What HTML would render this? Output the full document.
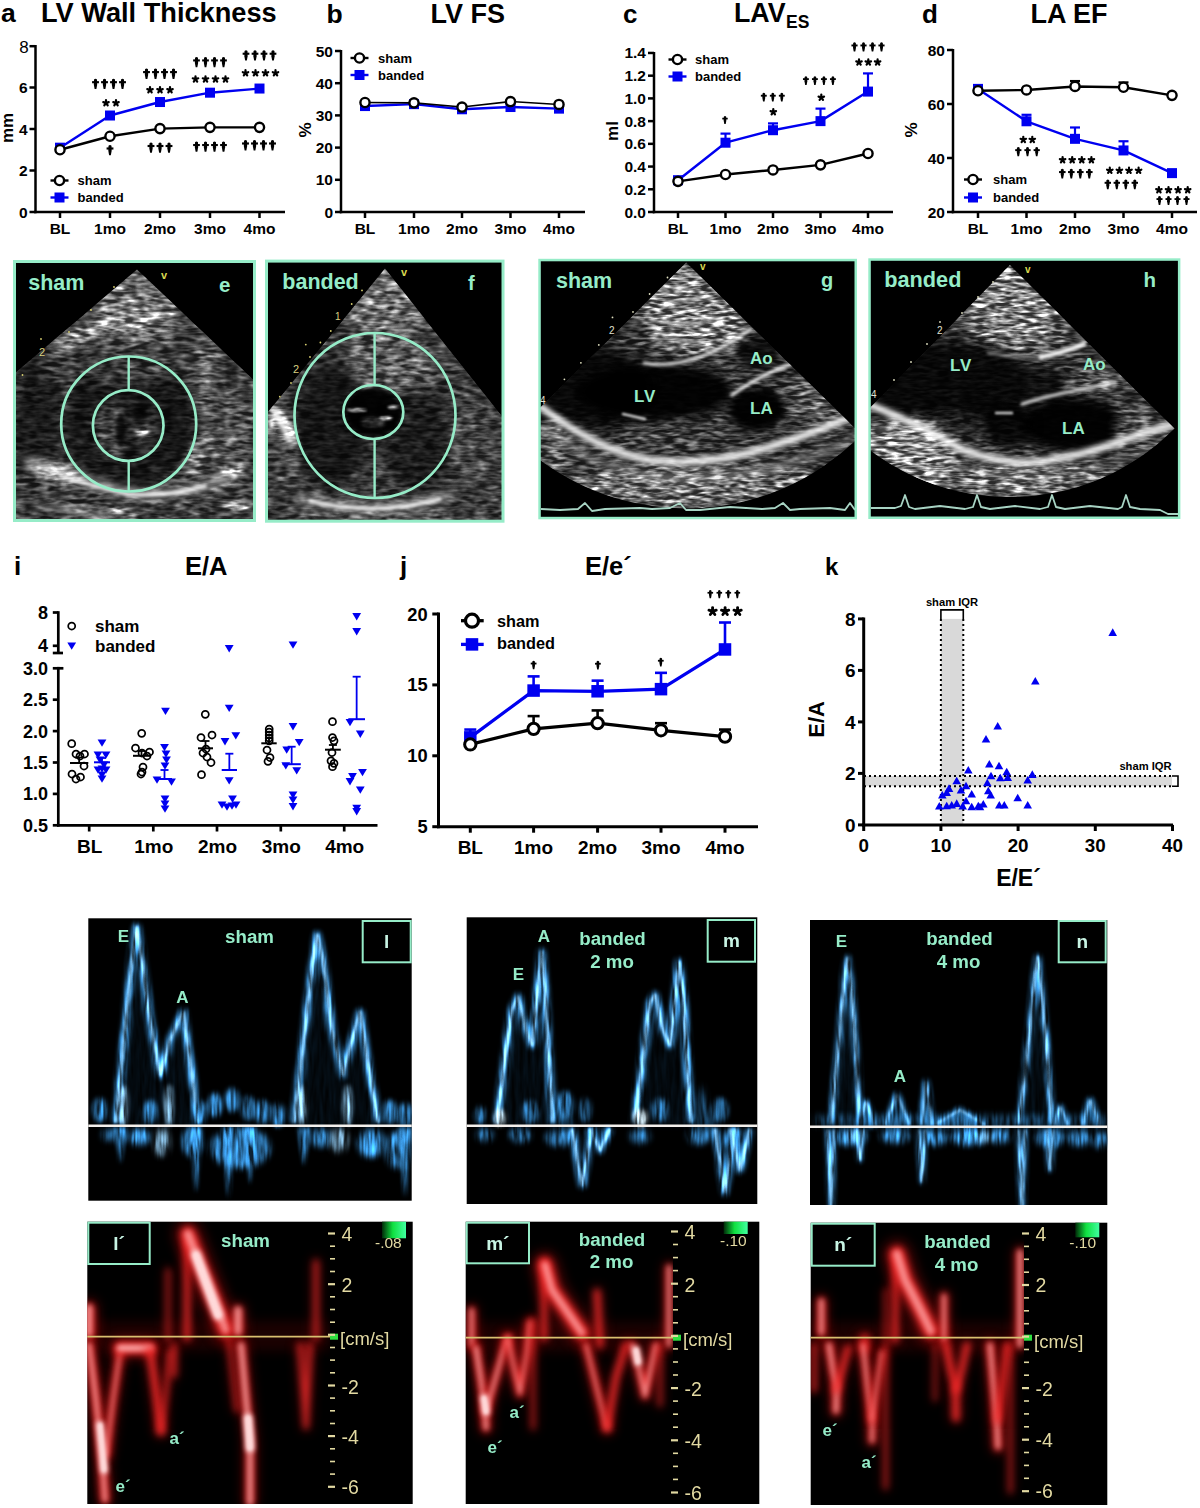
<!DOCTYPE html><html><head><meta charset="utf-8"><style>html,body{margin:0;padding:0;background:#fff;overflow:hidden;width:1200px;height:1508px;}svg{display:block;}text{font-family:"Liberation Sans",sans-serif;}</style></head><body>
<svg width="1200" height="1508" viewBox="0 0 1200 1508">
<rect width="1200" height="1508" fill="#fff"/>
<text x="1" y="22" font-size="26.5" font-weight="bold" text-anchor="start" fill="#000" >a</text>
<text x="41" y="22" font-size="27.2" font-weight="bold" text-anchor="start" fill="#000" >LV Wall Thickness</text>
<line x1="35.5" y1="45" x2="35.5" y2="213.25" stroke="#000" stroke-width="2.5"/>
<line x1="34.25" y1="212" x2="285" y2="212" stroke="#000" stroke-width="2.5"/>
<line x1="29.5" y1="87.5" x2="35.5" y2="87.5" stroke="#000" stroke-width="2.5"/>
<text x="27.5" y="93.0" font-size="15.5" font-weight="bold" text-anchor="end" fill="#000" >6</text>
<line x1="29.5" y1="129.0" x2="35.5" y2="129.0" stroke="#000" stroke-width="2.5"/>
<text x="27.5" y="134.5" font-size="15.5" font-weight="bold" text-anchor="end" fill="#000" >4</text>
<line x1="29.5" y1="170.5" x2="35.5" y2="170.5" stroke="#000" stroke-width="2.5"/>
<text x="27.5" y="176.0" font-size="15.5" font-weight="bold" text-anchor="end" fill="#000" >2</text>
<line x1="29.5" y1="212.0" x2="35.5" y2="212.0" stroke="#000" stroke-width="2.5"/>
<text x="27.5" y="217.5" font-size="15.5" font-weight="bold" text-anchor="end" fill="#000" >0</text>
<line x1="60" y1="212" x2="60" y2="218" stroke="#000" stroke-width="2.5"/>
<text x="60" y="233.5" font-size="15.5" font-weight="bold" text-anchor="middle" fill="#000" >BL</text>
<line x1="110" y1="212" x2="110" y2="218" stroke="#000" stroke-width="2.5"/>
<text x="110" y="233.5" font-size="15.5" font-weight="bold" text-anchor="middle" fill="#000" >1mo</text>
<line x1="160" y1="212" x2="160" y2="218" stroke="#000" stroke-width="2.5"/>
<text x="160" y="233.5" font-size="15.5" font-weight="bold" text-anchor="middle" fill="#000" >2mo</text>
<line x1="210" y1="212" x2="210" y2="218" stroke="#000" stroke-width="2.5"/>
<text x="210" y="233.5" font-size="15.5" font-weight="bold" text-anchor="middle" fill="#000" >3mo</text>
<line x1="259.5" y1="212" x2="259.5" y2="218" stroke="#000" stroke-width="2.5"/>
<text x="259.5" y="233.5" font-size="15.5" font-weight="bold" text-anchor="middle" fill="#000" >4mo</text>
<line x1="29.5" y1="46.2" x2="35.5" y2="46.2" stroke="#000" stroke-width="2.5"/>
<text x="28.8" y="52.8" font-size="17" font-weight="normal" text-anchor="end" fill="#000" >8</text>
<text x="12.5" y="128" font-size="17" font-weight="bold" text-anchor="middle" transform="rotate(-90 12.5 128)" dy="0">mm</text>
<polyline points="60,147.675 110,115.51249999999999 160,102.025 210,92.6875 259.5,88.5375" fill="none" stroke="#0000f0" stroke-width="2.4" stroke-linejoin="round"/>
<polyline points="60,149.75 110,136.2625 160,128.585 210,127.34 259.5,127.34" fill="none" stroke="#000" stroke-width="2.4" stroke-linejoin="round"/>
<rect x="55.0" y="142.675" width="10" height="10" fill="#0000f0"/>
<rect x="105.0" y="110.51249999999999" width="10" height="10" fill="#0000f0"/>
<rect x="155.0" y="97.025" width="10" height="10" fill="#0000f0"/>
<rect x="205.0" y="87.6875" width="10" height="10" fill="#0000f0"/>
<rect x="254.5" y="83.5375" width="10" height="10" fill="#0000f0"/>
<circle cx="60" cy="149.75" r="4.6" fill="#fff" stroke="#000" stroke-width="2.4"/>
<circle cx="110" cy="136.2625" r="4.6" fill="#fff" stroke="#000" stroke-width="2.4"/>
<circle cx="160" cy="128.585" r="4.6" fill="#fff" stroke="#000" stroke-width="2.4"/>
<circle cx="210" cy="127.34" r="4.6" fill="#fff" stroke="#000" stroke-width="2.4"/>
<circle cx="259.5" cy="127.34" r="4.6" fill="#fff" stroke="#000" stroke-width="2.4"/>
<line x1="50.5" y1="180.5" x2="68.5" y2="180.5" stroke="#000" stroke-width="2.4"/>
<circle cx="59.5" cy="180.5" r="4.6" fill="#fff" stroke="#000" stroke-width="2.4"/>
<line x1="50.5" y1="197.5" x2="68.5" y2="197.5" stroke="#0000f0" stroke-width="2.4"/>
<rect x="54.5" y="192.5" width="10" height="10" fill="#0000f0"/>
<text x="77.5" y="185.0" font-size="13" font-weight="bold" text-anchor="start" fill="#000" >sham</text>
<text x="77.5" y="202.0" font-size="13" font-weight="bold" text-anchor="start" fill="#000" >banded</text>
<path d="M94.00,79.45 Q95.50,77.95 97.00,79.45 L97.15,84.77 L96.36,89.05 L94.64,89.05 L93.85,84.77 Z" fill="#000"/>
<rect x="92.08" y="81.13" width="6.85" height="2.14" fill="#000"/>
<path d="M103.00,79.45 Q104.50,77.95 106.00,79.45 L106.15,84.77 L105.36,89.05 L103.64,89.05 L102.85,84.77 Z" fill="#000"/>
<rect x="101.08" y="81.13" width="6.85" height="2.14" fill="#000"/>
<path d="M112.00,79.45 Q113.50,77.95 115.00,79.45 L115.15,84.77 L114.36,89.05 L112.64,89.05 L111.85,84.77 Z" fill="#000"/>
<rect x="110.08" y="81.13" width="6.85" height="2.14" fill="#000"/>
<path d="M121.00,79.45 Q122.50,77.95 124.00,79.45 L124.15,84.77 L123.36,89.05 L121.64,89.05 L120.85,84.77 Z" fill="#000"/>
<rect x="119.08" y="81.13" width="6.85" height="2.14" fill="#000"/>
<path d="M106.00,103.00 L106.00,100.10 M106.00,103.00 L108.76,102.10 M106.00,103.00 L107.70,105.35 M106.00,103.00 L104.30,105.35 M106.00,103.00 L103.24,102.10 " stroke="#000" stroke-width="2.2" stroke-linecap="round" fill="none"/>
<path d="M116.00,103.00 L116.00,100.10 M116.00,103.00 L118.76,102.10 M116.00,103.00 L117.70,105.35 M116.00,103.00 L114.30,105.35 M116.00,103.00 L113.24,102.10 " stroke="#000" stroke-width="2.2" stroke-linecap="round" fill="none"/>
<path d="M108.50,145.75 Q110.00,144.25 111.50,145.75 L111.65,151.07 L110.86,155.35 L109.14,155.35 L108.35,151.07 Z" fill="#000"/>
<rect x="106.58" y="147.43" width="6.85" height="2.14" fill="#000"/>
<path d="M145.00,69.35 Q146.50,67.85 148.00,69.35 L148.15,74.67 L147.36,78.95 L145.64,78.95 L144.85,74.67 Z" fill="#000"/>
<rect x="143.08" y="71.03" width="6.85" height="2.14" fill="#000"/>
<path d="M154.00,69.35 Q155.50,67.85 157.00,69.35 L157.15,74.67 L156.36,78.95 L154.64,78.95 L153.85,74.67 Z" fill="#000"/>
<rect x="152.08" y="71.03" width="6.85" height="2.14" fill="#000"/>
<path d="M163.00,69.35 Q164.50,67.85 166.00,69.35 L166.15,74.67 L165.36,78.95 L163.64,78.95 L162.85,74.67 Z" fill="#000"/>
<rect x="161.08" y="71.03" width="6.85" height="2.14" fill="#000"/>
<path d="M172.00,69.35 Q173.50,67.85 175.00,69.35 L175.15,74.67 L174.36,78.95 L172.64,78.95 L171.85,74.67 Z" fill="#000"/>
<rect x="170.08" y="71.03" width="6.85" height="2.14" fill="#000"/>
<path d="M150.00,90.00 L150.00,87.10 M150.00,90.00 L152.76,89.10 M150.00,90.00 L151.70,92.35 M150.00,90.00 L148.30,92.35 M150.00,90.00 L147.24,89.10 " stroke="#000" stroke-width="2.2" stroke-linecap="round" fill="none"/>
<path d="M160.00,90.00 L160.00,87.10 M160.00,90.00 L162.76,89.10 M160.00,90.00 L161.70,92.35 M160.00,90.00 L158.30,92.35 M160.00,90.00 L157.24,89.10 " stroke="#000" stroke-width="2.2" stroke-linecap="round" fill="none"/>
<path d="M170.00,90.00 L170.00,87.10 M170.00,90.00 L172.76,89.10 M170.00,90.00 L171.70,92.35 M170.00,90.00 L168.30,92.35 M170.00,90.00 L167.24,89.10 " stroke="#000" stroke-width="2.2" stroke-linecap="round" fill="none"/>
<path d="M149.50,143.25 Q151.00,141.75 152.50,143.25 L152.65,148.57 L151.86,152.85 L150.14,152.85 L149.35,148.57 Z" fill="#000"/>
<rect x="147.58" y="144.93" width="6.85" height="2.14" fill="#000"/>
<path d="M158.50,143.25 Q160.00,141.75 161.50,143.25 L161.65,148.57 L160.86,152.85 L159.14,152.85 L158.35,148.57 Z" fill="#000"/>
<rect x="156.58" y="144.93" width="6.85" height="2.14" fill="#000"/>
<path d="M167.50,143.25 Q169.00,141.75 170.50,143.25 L170.65,148.57 L169.86,152.85 L168.14,152.85 L167.35,148.57 Z" fill="#000"/>
<rect x="165.58" y="144.93" width="6.85" height="2.14" fill="#000"/>
<path d="M195.03,57.75 Q196.50,56.25 197.97,57.75 L198.12,62.95 L197.34,67.15 L195.66,67.15 L194.88,62.95 Z" fill="#000"/>
<rect x="193.14" y="59.38" width="6.72" height="2.10" fill="#000"/>
<path d="M204.03,57.75 Q205.50,56.25 206.97,57.75 L207.12,62.95 L206.34,67.15 L204.66,67.15 L203.88,62.95 Z" fill="#000"/>
<rect x="202.14" y="59.38" width="6.72" height="2.10" fill="#000"/>
<path d="M213.03,57.75 Q214.50,56.25 215.97,57.75 L216.12,62.95 L215.34,67.15 L213.66,67.15 L212.88,62.95 Z" fill="#000"/>
<rect x="211.14" y="59.38" width="6.72" height="2.10" fill="#000"/>
<path d="M222.03,57.75 Q223.50,56.25 224.97,57.75 L225.12,62.95 L224.34,67.15 L222.66,67.15 L221.88,62.95 Z" fill="#000"/>
<rect x="220.14" y="59.38" width="6.72" height="2.10" fill="#000"/>
<path d="M195.50,79.20 L195.50,76.30 M195.50,79.20 L198.26,78.30 M195.50,79.20 L197.20,81.55 M195.50,79.20 L193.80,81.55 M195.50,79.20 L192.74,78.30 " stroke="#000" stroke-width="2.2" stroke-linecap="round" fill="none"/>
<path d="M205.50,79.20 L205.50,76.30 M205.50,79.20 L208.26,78.30 M205.50,79.20 L207.20,81.55 M205.50,79.20 L203.80,81.55 M205.50,79.20 L202.74,78.30 " stroke="#000" stroke-width="2.2" stroke-linecap="round" fill="none"/>
<path d="M215.50,79.20 L215.50,76.30 M215.50,79.20 L218.26,78.30 M215.50,79.20 L217.20,81.55 M215.50,79.20 L213.80,81.55 M215.50,79.20 L212.74,78.30 " stroke="#000" stroke-width="2.2" stroke-linecap="round" fill="none"/>
<path d="M225.50,79.20 L225.50,76.30 M225.50,79.20 L228.26,78.30 M225.50,79.20 L227.20,81.55 M225.50,79.20 L223.80,81.55 M225.50,79.20 L222.74,78.30 " stroke="#000" stroke-width="2.2" stroke-linecap="round" fill="none"/>
<path d="M195.03,142.35 Q196.50,140.85 197.97,142.35 L198.12,147.55 L197.34,151.75 L195.66,151.75 L194.88,147.55 Z" fill="#000"/>
<rect x="193.14" y="143.98" width="6.72" height="2.10" fill="#000"/>
<path d="M204.03,142.35 Q205.50,140.85 206.97,142.35 L207.12,147.55 L206.34,151.75 L204.66,151.75 L203.88,147.55 Z" fill="#000"/>
<rect x="202.14" y="143.98" width="6.72" height="2.10" fill="#000"/>
<path d="M213.03,142.35 Q214.50,140.85 215.97,142.35 L216.12,147.55 L215.34,151.75 L213.66,151.75 L212.88,147.55 Z" fill="#000"/>
<rect x="211.14" y="143.98" width="6.72" height="2.10" fill="#000"/>
<path d="M222.03,142.35 Q223.50,140.85 224.97,142.35 L225.12,147.55 L224.34,151.75 L222.66,151.75 L221.88,147.55 Z" fill="#000"/>
<rect x="220.14" y="143.98" width="6.72" height="2.10" fill="#000"/>
<path d="M244.53,51.05 Q246.00,49.55 247.47,51.05 L247.62,56.25 L246.84,60.45 L245.16,60.45 L244.38,56.25 Z" fill="#000"/>
<rect x="242.64" y="52.68" width="6.72" height="2.10" fill="#000"/>
<path d="M253.53,51.05 Q255.00,49.55 256.47,51.05 L256.62,56.25 L255.84,60.45 L254.16,60.45 L253.38,56.25 Z" fill="#000"/>
<rect x="251.64" y="52.68" width="6.72" height="2.10" fill="#000"/>
<path d="M262.53,51.05 Q264.00,49.55 265.47,51.05 L265.62,56.25 L264.84,60.45 L263.16,60.45 L262.38,56.25 Z" fill="#000"/>
<rect x="260.64" y="52.68" width="6.72" height="2.10" fill="#000"/>
<path d="M271.53,51.05 Q273.00,49.55 274.47,51.05 L274.62,56.25 L273.84,60.45 L272.16,60.45 L271.38,56.25 Z" fill="#000"/>
<rect x="269.64" y="52.68" width="6.72" height="2.10" fill="#000"/>
<path d="M245.50,73.10 L245.50,70.20 M245.50,73.10 L248.26,72.20 M245.50,73.10 L247.20,75.45 M245.50,73.10 L243.80,75.45 M245.50,73.10 L242.74,72.20 " stroke="#000" stroke-width="2.2" stroke-linecap="round" fill="none"/>
<path d="M255.50,73.10 L255.50,70.20 M255.50,73.10 L258.26,72.20 M255.50,73.10 L257.20,75.45 M255.50,73.10 L253.80,75.45 M255.50,73.10 L252.74,72.20 " stroke="#000" stroke-width="2.2" stroke-linecap="round" fill="none"/>
<path d="M265.50,73.10 L265.50,70.20 M265.50,73.10 L268.26,72.20 M265.50,73.10 L267.20,75.45 M265.50,73.10 L263.80,75.45 M265.50,73.10 L262.74,72.20 " stroke="#000" stroke-width="2.2" stroke-linecap="round" fill="none"/>
<path d="M275.50,73.10 L275.50,70.20 M275.50,73.10 L278.26,72.20 M275.50,73.10 L277.20,75.45 M275.50,73.10 L273.80,75.45 M275.50,73.10 L272.74,72.20 " stroke="#000" stroke-width="2.2" stroke-linecap="round" fill="none"/>
<path d="M243.99,140.70 Q245.50,139.20 247.01,140.70 L247.16,146.08 L246.36,150.40 L244.64,150.40 L243.84,146.08 Z" fill="#000"/>
<rect x="242.04" y="142.41" width="6.91" height="2.16" fill="#000"/>
<path d="M252.99,140.70 Q254.50,139.20 256.01,140.70 L256.16,146.08 L255.36,150.40 L253.64,150.40 L252.84,146.08 Z" fill="#000"/>
<rect x="251.04" y="142.41" width="6.91" height="2.16" fill="#000"/>
<path d="M261.99,140.70 Q263.50,139.20 265.01,140.70 L265.16,146.08 L264.36,150.40 L262.64,150.40 L261.84,146.08 Z" fill="#000"/>
<rect x="260.04" y="142.41" width="6.91" height="2.16" fill="#000"/>
<path d="M270.99,140.70 Q272.50,139.20 274.01,140.70 L274.16,146.08 L273.36,150.40 L271.64,150.40 L270.84,146.08 Z" fill="#000"/>
<rect x="269.04" y="142.41" width="6.91" height="2.16" fill="#000"/>
<text x="326.5" y="22.5" font-size="26.5" font-weight="bold" text-anchor="start" fill="#000" >b</text>
<text x="430.5" y="22.5" font-size="27" font-weight="bold" text-anchor="start" fill="#000" >LV FS</text>
<line x1="341" y1="50" x2="341" y2="213.25" stroke="#000" stroke-width="2.5"/>
<line x1="339.75" y1="212" x2="585" y2="212" stroke="#000" stroke-width="2.5"/>
<line x1="335" y1="51.0" x2="341" y2="51.0" stroke="#000" stroke-width="2.5"/>
<text x="333" y="56.5" font-size="15.5" font-weight="bold" text-anchor="end" fill="#000" >50</text>
<line x1="335" y1="83.19999999999999" x2="341" y2="83.19999999999999" stroke="#000" stroke-width="2.5"/>
<text x="333" y="88.69999999999999" font-size="15.5" font-weight="bold" text-anchor="end" fill="#000" >40</text>
<line x1="335" y1="115.39999999999999" x2="341" y2="115.39999999999999" stroke="#000" stroke-width="2.5"/>
<text x="333" y="120.89999999999999" font-size="15.5" font-weight="bold" text-anchor="end" fill="#000" >30</text>
<line x1="335" y1="147.6" x2="341" y2="147.6" stroke="#000" stroke-width="2.5"/>
<text x="333" y="153.1" font-size="15.5" font-weight="bold" text-anchor="end" fill="#000" >20</text>
<line x1="335" y1="179.8" x2="341" y2="179.8" stroke="#000" stroke-width="2.5"/>
<text x="333" y="185.3" font-size="15.5" font-weight="bold" text-anchor="end" fill="#000" >10</text>
<line x1="335" y1="212.0" x2="341" y2="212.0" stroke="#000" stroke-width="2.5"/>
<text x="333" y="217.5" font-size="15.5" font-weight="bold" text-anchor="end" fill="#000" >0</text>
<line x1="365" y1="212" x2="365" y2="218" stroke="#000" stroke-width="2.5"/>
<text x="365" y="233.5" font-size="15.5" font-weight="bold" text-anchor="middle" fill="#000" >BL</text>
<line x1="414" y1="212" x2="414" y2="218" stroke="#000" stroke-width="2.5"/>
<text x="414" y="233.5" font-size="15.5" font-weight="bold" text-anchor="middle" fill="#000" >1mo</text>
<line x1="462" y1="212" x2="462" y2="218" stroke="#000" stroke-width="2.5"/>
<text x="462" y="233.5" font-size="15.5" font-weight="bold" text-anchor="middle" fill="#000" >2mo</text>
<line x1="510.5" y1="212" x2="510.5" y2="218" stroke="#000" stroke-width="2.5"/>
<text x="510.5" y="233.5" font-size="15.5" font-weight="bold" text-anchor="middle" fill="#000" >3mo</text>
<line x1="559" y1="212" x2="559" y2="218" stroke="#000" stroke-width="2.5"/>
<text x="559" y="233.5" font-size="15.5" font-weight="bold" text-anchor="middle" fill="#000" >4mo</text>
<text x="311" y="130" font-size="17" font-weight="bold" text-anchor="middle" transform="rotate(-90 311 130)">%</text>
<polyline points="365,106.062 414,104.13 462,109.282 510.5,107.02799999999999 559,108.63799999999999" fill="none" stroke="#0000f0" stroke-width="2.4" stroke-linejoin="round"/>
<rect x="360.0" y="101.062" width="10" height="10" fill="#0000f0"/>
<rect x="409.0" y="99.13" width="10" height="10" fill="#0000f0"/>
<rect x="457.0" y="104.282" width="10" height="10" fill="#0000f0"/>
<rect x="505.5" y="102.02799999999999" width="10" height="10" fill="#0000f0"/>
<rect x="554.0" y="103.63799999999999" width="10" height="10" fill="#0000f0"/>
<polyline points="365,102.52 414,102.842 462,107.02799999999999 510.5,101.554 559,104.452" fill="none" stroke="#000" stroke-width="1.6" stroke-linejoin="round"/>
<circle cx="365" cy="102.52" r="4.6" fill="#fff" stroke="#000" stroke-width="2.4"/>
<circle cx="414" cy="102.842" r="4.6" fill="#fff" stroke="#000" stroke-width="2.4"/>
<circle cx="462" cy="107.02799999999999" r="4.6" fill="#fff" stroke="#000" stroke-width="2.4"/>
<circle cx="510.5" cy="101.554" r="4.6" fill="#fff" stroke="#000" stroke-width="2.4"/>
<circle cx="559" cy="104.452" r="4.6" fill="#fff" stroke="#000" stroke-width="2.4"/>
<line x1="350.5" y1="58" x2="368.5" y2="58" stroke="#000" stroke-width="2.4"/>
<circle cx="359.5" cy="58" r="4.6" fill="#fff" stroke="#000" stroke-width="2.4"/>
<line x1="350.5" y1="75" x2="368.5" y2="75" stroke="#0000f0" stroke-width="2.4"/>
<rect x="354.5" y="70.0" width="10" height="10" fill="#0000f0"/>
<text x="378" y="62.5" font-size="13" font-weight="bold" text-anchor="start" fill="#000" >sham</text>
<text x="378" y="79.5" font-size="13" font-weight="bold" text-anchor="start" fill="#000" >banded</text>
<text x="623" y="22.5" font-size="26" font-weight="bold" text-anchor="start" fill="#000" >c</text>
<text x="734" y="22" font-size="26.8" font-weight="bold" text-anchor="start" fill="#000" >LAV</text>
<text x="786" y="28" font-size="17.5" font-weight="bold" text-anchor="start" fill="#000" >ES</text>
<line x1="654" y1="52" x2="654" y2="213.25" stroke="#000" stroke-width="2.5"/>
<line x1="652.75" y1="212" x2="893" y2="212" stroke="#000" stroke-width="2.5"/>
<line x1="648" y1="52.96000000000001" x2="654" y2="52.96000000000001" stroke="#000" stroke-width="2.5"/>
<text x="646" y="58.46000000000001" font-size="15.5" font-weight="bold" text-anchor="end" fill="#000" >1.4</text>
<line x1="648" y1="75.68" x2="654" y2="75.68" stroke="#000" stroke-width="2.5"/>
<text x="646" y="81.18" font-size="15.5" font-weight="bold" text-anchor="end" fill="#000" >1.2</text>
<line x1="648" y1="98.4" x2="654" y2="98.4" stroke="#000" stroke-width="2.5"/>
<text x="646" y="103.9" font-size="15.5" font-weight="bold" text-anchor="end" fill="#000" >1.0</text>
<line x1="648" y1="121.12" x2="654" y2="121.12" stroke="#000" stroke-width="2.5"/>
<text x="646" y="126.62" font-size="15.5" font-weight="bold" text-anchor="end" fill="#000" >0.8</text>
<line x1="648" y1="143.84" x2="654" y2="143.84" stroke="#000" stroke-width="2.5"/>
<text x="646" y="149.34" font-size="15.5" font-weight="bold" text-anchor="end" fill="#000" >0.6</text>
<line x1="648" y1="166.56" x2="654" y2="166.56" stroke="#000" stroke-width="2.5"/>
<text x="646" y="172.06" font-size="15.5" font-weight="bold" text-anchor="end" fill="#000" >0.4</text>
<line x1="648" y1="189.28" x2="654" y2="189.28" stroke="#000" stroke-width="2.5"/>
<text x="646" y="194.78" font-size="15.5" font-weight="bold" text-anchor="end" fill="#000" >0.2</text>
<line x1="648" y1="212.0" x2="654" y2="212.0" stroke="#000" stroke-width="2.5"/>
<text x="646" y="217.5" font-size="15.5" font-weight="bold" text-anchor="end" fill="#000" >0.0</text>
<line x1="678" y1="212" x2="678" y2="218" stroke="#000" stroke-width="2.5"/>
<text x="678" y="233.5" font-size="15.5" font-weight="bold" text-anchor="middle" fill="#000" >BL</text>
<line x1="725.5" y1="212" x2="725.5" y2="218" stroke="#000" stroke-width="2.5"/>
<text x="725.5" y="233.5" font-size="15.5" font-weight="bold" text-anchor="middle" fill="#000" >1mo</text>
<line x1="773" y1="212" x2="773" y2="218" stroke="#000" stroke-width="2.5"/>
<text x="773" y="233.5" font-size="15.5" font-weight="bold" text-anchor="middle" fill="#000" >2mo</text>
<line x1="820.5" y1="212" x2="820.5" y2="218" stroke="#000" stroke-width="2.5"/>
<text x="820.5" y="233.5" font-size="15.5" font-weight="bold" text-anchor="middle" fill="#000" >3mo</text>
<line x1="868" y1="212" x2="868" y2="218" stroke="#000" stroke-width="2.5"/>
<text x="868" y="233.5" font-size="15.5" font-weight="bold" text-anchor="middle" fill="#000" >4mo</text>
<text x="618" y="131" font-size="17" font-weight="bold" text-anchor="middle" transform="rotate(-90 618 131)">ml</text>
<line x1="678" y1="180.192" x2="678" y2="180.192" stroke="#0000f0" stroke-width="2.2"/>
<line x1="673" y1="180.192" x2="683" y2="180.192" stroke="#0000f0" stroke-width="2.2"/>
<line x1="725.5" y1="142.704" x2="725.5" y2="133.616" stroke="#0000f0" stroke-width="2.2"/>
<line x1="720.5" y1="133.616" x2="730.5" y2="133.616" stroke="#0000f0" stroke-width="2.2"/>
<line x1="773" y1="130.20800000000003" x2="773" y2="123.392" stroke="#0000f0" stroke-width="2.2"/>
<line x1="768" y1="123.392" x2="778" y2="123.392" stroke="#0000f0" stroke-width="2.2"/>
<line x1="820.5" y1="121.12" x2="820.5" y2="108.624" stroke="#0000f0" stroke-width="2.2"/>
<line x1="815.5" y1="108.624" x2="825.5" y2="108.624" stroke="#0000f0" stroke-width="2.2"/>
<line x1="868" y1="91.584" x2="868" y2="73.40800000000002" stroke="#0000f0" stroke-width="2.2"/>
<line x1="863" y1="73.40800000000002" x2="873" y2="73.40800000000002" stroke="#0000f0" stroke-width="2.2"/>
<polyline points="678,180.192 725.5,142.704 773,130.20800000000003 820.5,121.12 868,91.584" fill="none" stroke="#0000f0" stroke-width="2.4" stroke-linejoin="round"/>
<rect x="673.0" y="175.192" width="10" height="10" fill="#0000f0"/>
<rect x="720.5" y="137.704" width="10" height="10" fill="#0000f0"/>
<rect x="768.0" y="125.20800000000003" width="10" height="10" fill="#0000f0"/>
<rect x="815.5" y="116.12" width="10" height="10" fill="#0000f0"/>
<rect x="863.0" y="86.584" width="10" height="10" fill="#0000f0"/>
<polyline points="678,181.328 725.5,174.512 773,169.96800000000002 820.5,164.856 868,153.496" fill="none" stroke="#000" stroke-width="2.4" stroke-linejoin="round"/>
<circle cx="678" cy="181.328" r="4.6" fill="#fff" stroke="#000" stroke-width="2.4"/>
<circle cx="725.5" cy="174.512" r="4.6" fill="#fff" stroke="#000" stroke-width="2.4"/>
<circle cx="773" cy="169.96800000000002" r="4.6" fill="#fff" stroke="#000" stroke-width="2.4"/>
<circle cx="820.5" cy="164.856" r="4.6" fill="#fff" stroke="#000" stroke-width="2.4"/>
<circle cx="868" cy="153.496" r="4.6" fill="#fff" stroke="#000" stroke-width="2.4"/>
<line x1="668.5" y1="59.5" x2="686.5" y2="59.5" stroke="#000" stroke-width="2.4"/>
<circle cx="677.5" cy="59.5" r="4.6" fill="#fff" stroke="#000" stroke-width="2.4"/>
<line x1="668.5" y1="76.5" x2="686.5" y2="76.5" stroke="#0000f0" stroke-width="2.4"/>
<rect x="672.5" y="71.5" width="10" height="10" fill="#0000f0"/>
<text x="695" y="64.0" font-size="13" font-weight="bold" text-anchor="start" fill="#000" >sham</text>
<text x="695" y="81.0" font-size="13" font-weight="bold" text-anchor="start" fill="#000" >banded</text>
<path d="M723.81,116.65 Q725.00,115.15 726.19,116.65 L726.31,120.65 L725.68,124.05 L724.32,124.05 L723.69,120.65 Z" fill="#000"/>
<rect x="722.28" y="117.76" width="5.44" height="1.70" fill="#000"/>
<path d="M762.51,93.50 Q763.80,92.00 765.09,93.50 L765.22,97.92 L764.54,101.60 L763.06,101.60 L762.38,97.92 Z" fill="#000"/>
<rect x="760.86" y="94.79" width="5.89" height="1.84" fill="#000"/>
<path d="M771.51,93.50 Q772.80,92.00 774.09,93.50 L774.22,97.92 L773.54,101.60 L772.06,101.60 L771.38,97.92 Z" fill="#000"/>
<rect x="769.86" y="94.79" width="5.89" height="1.84" fill="#000"/>
<path d="M780.51,93.50 Q781.80,92.00 783.09,93.50 L783.22,97.92 L782.54,101.60 L781.06,101.60 L780.38,97.92 Z" fill="#000"/>
<rect x="778.86" y="94.79" width="5.89" height="1.84" fill="#000"/>
<path d="M773.30,112.00 L773.30,109.10 M773.30,112.00 L776.06,111.10 M773.30,112.00 L775.00,114.35 M773.30,112.00 L771.60,114.35 M773.30,112.00 L770.54,111.10 " stroke="#000" stroke-width="2.2" stroke-linecap="round" fill="none"/>
<path d="M804.61,76.90 Q805.90,75.40 807.19,76.90 L807.32,81.32 L806.64,85.00 L805.16,85.00 L804.48,81.32 Z" fill="#000"/>
<rect x="802.96" y="78.19" width="5.89" height="1.84" fill="#000"/>
<path d="M813.61,76.90 Q814.90,75.40 816.19,76.90 L816.32,81.32 L815.64,85.00 L814.16,85.00 L813.48,81.32 Z" fill="#000"/>
<rect x="811.96" y="78.19" width="5.89" height="1.84" fill="#000"/>
<path d="M822.61,76.90 Q823.90,75.40 825.19,76.90 L825.32,81.32 L824.64,85.00 L823.16,85.00 L822.48,81.32 Z" fill="#000"/>
<rect x="820.96" y="78.19" width="5.89" height="1.84" fill="#000"/>
<path d="M831.61,76.90 Q832.90,75.40 834.19,76.90 L834.32,81.32 L833.64,85.00 L832.16,85.00 L831.48,81.32 Z" fill="#000"/>
<rect x="829.96" y="78.19" width="5.89" height="1.84" fill="#000"/>
<path d="M821.30,97.50 L821.30,94.60 M821.30,97.50 L824.06,96.60 M821.30,97.50 L823.00,99.85 M821.30,97.50 L819.60,99.85 M821.30,97.50 L818.54,96.60 " stroke="#000" stroke-width="2.2" stroke-linecap="round" fill="none"/>
<path d="M853.16,43.10 Q854.50,41.60 855.84,43.10 L855.98,47.76 L855.27,51.60 L853.73,51.60 L853.02,47.76 Z" fill="#000"/>
<rect x="851.43" y="44.50" width="6.14" height="1.92" fill="#000"/>
<path d="M862.16,43.10 Q863.50,41.60 864.84,43.10 L864.98,47.76 L864.27,51.60 L862.73,51.60 L862.02,47.76 Z" fill="#000"/>
<rect x="860.43" y="44.50" width="6.14" height="1.92" fill="#000"/>
<path d="M871.16,43.10 Q872.50,41.60 873.84,43.10 L873.98,47.76 L873.27,51.60 L871.73,51.60 L871.02,47.76 Z" fill="#000"/>
<rect x="869.43" y="44.50" width="6.14" height="1.92" fill="#000"/>
<path d="M880.16,43.10 Q881.50,41.60 882.84,43.10 L882.98,47.76 L882.27,51.60 L880.73,51.60 L880.02,47.76 Z" fill="#000"/>
<rect x="878.43" y="44.50" width="6.14" height="1.92" fill="#000"/>
<path d="M859.00,62.30 L859.00,59.40 M859.00,62.30 L861.76,61.40 M859.00,62.30 L860.70,64.65 M859.00,62.30 L857.30,64.65 M859.00,62.30 L856.24,61.40 " stroke="#000" stroke-width="2.2" stroke-linecap="round" fill="none"/>
<path d="M868.30,62.30 L868.30,59.40 M868.30,62.30 L871.06,61.40 M868.30,62.30 L870.00,64.65 M868.30,62.30 L866.60,64.65 M868.30,62.30 L865.54,61.40 " stroke="#000" stroke-width="2.2" stroke-linecap="round" fill="none"/>
<path d="M877.60,62.30 L877.60,59.40 M877.60,62.30 L880.36,61.40 M877.60,62.30 L879.30,64.65 M877.60,62.30 L875.90,64.65 M877.60,62.30 L874.84,61.40 " stroke="#000" stroke-width="2.2" stroke-linecap="round" fill="none"/>
<text x="922" y="22.5" font-size="26" font-weight="bold" text-anchor="start" fill="#000" >d</text>
<text x="1030.5" y="22.5" font-size="27" font-weight="bold" text-anchor="start" fill="#000" >LA EF</text>
<line x1="953" y1="49" x2="953" y2="213.25" stroke="#000" stroke-width="2.5"/>
<line x1="951.75" y1="212" x2="1197" y2="212" stroke="#000" stroke-width="2.5"/>
<line x1="947" y1="50.0" x2="953" y2="50.0" stroke="#000" stroke-width="2.5"/>
<text x="945" y="55.5" font-size="15.5" font-weight="bold" text-anchor="end" fill="#000" >80</text>
<line x1="947" y1="104.0" x2="953" y2="104.0" stroke="#000" stroke-width="2.5"/>
<text x="945" y="109.5" font-size="15.5" font-weight="bold" text-anchor="end" fill="#000" >60</text>
<line x1="947" y1="158.0" x2="953" y2="158.0" stroke="#000" stroke-width="2.5"/>
<text x="945" y="163.5" font-size="15.5" font-weight="bold" text-anchor="end" fill="#000" >40</text>
<line x1="947" y1="212.0" x2="953" y2="212.0" stroke="#000" stroke-width="2.5"/>
<text x="945" y="217.5" font-size="15.5" font-weight="bold" text-anchor="end" fill="#000" >20</text>
<line x1="978" y1="212" x2="978" y2="218" stroke="#000" stroke-width="2.5"/>
<text x="978" y="233.5" font-size="15.5" font-weight="bold" text-anchor="middle" fill="#000" >BL</text>
<line x1="1026.5" y1="212" x2="1026.5" y2="218" stroke="#000" stroke-width="2.5"/>
<text x="1026.5" y="233.5" font-size="15.5" font-weight="bold" text-anchor="middle" fill="#000" >1mo</text>
<line x1="1075" y1="212" x2="1075" y2="218" stroke="#000" stroke-width="2.5"/>
<text x="1075" y="233.5" font-size="15.5" font-weight="bold" text-anchor="middle" fill="#000" >2mo</text>
<line x1="1123.5" y1="212" x2="1123.5" y2="218" stroke="#000" stroke-width="2.5"/>
<text x="1123.5" y="233.5" font-size="15.5" font-weight="bold" text-anchor="middle" fill="#000" >3mo</text>
<line x1="1172" y1="212" x2="1172" y2="218" stroke="#000" stroke-width="2.5"/>
<text x="1172" y="233.5" font-size="15.5" font-weight="bold" text-anchor="middle" fill="#000" >4mo</text>
<text x="917" y="130" font-size="17" font-weight="bold" text-anchor="middle" transform="rotate(-90 917 130)">%</text>
<line x1="978" y1="88.88000000000001" x2="978" y2="85.1" stroke="#0000f0" stroke-width="2.2"/>
<line x1="973" y1="85.1" x2="983" y2="85.1" stroke="#0000f0" stroke-width="2.2"/>
<line x1="1026.5" y1="121.27999999999999" x2="1026.5" y2="114.8" stroke="#0000f0" stroke-width="2.2"/>
<line x1="1021.5" y1="114.8" x2="1031.5" y2="114.8" stroke="#0000f0" stroke-width="2.2"/>
<line x1="1075" y1="138.82999999999998" x2="1075" y2="127.49000000000001" stroke="#0000f0" stroke-width="2.2"/>
<line x1="1070" y1="127.49000000000001" x2="1080" y2="127.49000000000001" stroke="#0000f0" stroke-width="2.2"/>
<line x1="1123.5" y1="150.44" x2="1123.5" y2="141.26" stroke="#0000f0" stroke-width="2.2"/>
<line x1="1118.5" y1="141.26" x2="1128.5" y2="141.26" stroke="#0000f0" stroke-width="2.2"/>
<line x1="1172" y1="173.12" x2="1172" y2="173.12" stroke="#0000f0" stroke-width="2.2"/>
<line x1="1167" y1="173.12" x2="1177" y2="173.12" stroke="#0000f0" stroke-width="2.2"/>
<line x1="978" y1="90.76999999999998" x2="978" y2="90.76999999999998" stroke="#000" stroke-width="2.2"/>
<line x1="973" y1="90.76999999999998" x2="983" y2="90.76999999999998" stroke="#000" stroke-width="2.2"/>
<line x1="1026.5" y1="89.95999999999998" x2="1026.5" y2="89.95999999999998" stroke="#000" stroke-width="2.2"/>
<line x1="1021.5" y1="89.95999999999998" x2="1031.5" y2="89.95999999999998" stroke="#000" stroke-width="2.2"/>
<line x1="1075" y1="86.44999999999999" x2="1075" y2="81.04999999999998" stroke="#000" stroke-width="2.2"/>
<line x1="1070" y1="81.04999999999998" x2="1080" y2="81.04999999999998" stroke="#000" stroke-width="2.2"/>
<line x1="1123.5" y1="87.25999999999999" x2="1123.5" y2="82.39999999999998" stroke="#000" stroke-width="2.2"/>
<line x1="1118.5" y1="82.39999999999998" x2="1128.5" y2="82.39999999999998" stroke="#000" stroke-width="2.2"/>
<line x1="1172" y1="95.35999999999999" x2="1172" y2="95.35999999999999" stroke="#000" stroke-width="2.2"/>
<line x1="1167" y1="95.35999999999999" x2="1177" y2="95.35999999999999" stroke="#000" stroke-width="2.2"/>
<polyline points="978,88.88000000000001 1026.5,121.27999999999999 1075,138.82999999999998 1123.5,150.44 1172,173.12" fill="none" stroke="#0000f0" stroke-width="2.4" stroke-linejoin="round"/>
<rect x="973.0" y="83.88000000000001" width="10" height="10" fill="#0000f0"/>
<rect x="1021.5" y="116.27999999999999" width="10" height="10" fill="#0000f0"/>
<rect x="1070.0" y="133.82999999999998" width="10" height="10" fill="#0000f0"/>
<rect x="1118.5" y="145.44" width="10" height="10" fill="#0000f0"/>
<rect x="1167.0" y="168.12" width="10" height="10" fill="#0000f0"/>
<polyline points="978,90.76999999999998 1026.5,89.95999999999998 1075,86.44999999999999 1123.5,87.25999999999999 1172,95.35999999999999" fill="none" stroke="#000" stroke-width="2.4" stroke-linejoin="round"/>
<circle cx="978" cy="90.76999999999998" r="4.6" fill="#fff" stroke="#000" stroke-width="2.4"/>
<circle cx="1026.5" cy="89.95999999999998" r="4.6" fill="#fff" stroke="#000" stroke-width="2.4"/>
<circle cx="1075" cy="86.44999999999999" r="4.6" fill="#fff" stroke="#000" stroke-width="2.4"/>
<circle cx="1123.5" cy="87.25999999999999" r="4.6" fill="#fff" stroke="#000" stroke-width="2.4"/>
<circle cx="1172" cy="95.35999999999999" r="4.6" fill="#fff" stroke="#000" stroke-width="2.4"/>
<line x1="964" y1="179.5" x2="982" y2="179.5" stroke="#000" stroke-width="2.4"/>
<circle cx="973" cy="179.5" r="4.6" fill="#fff" stroke="#000" stroke-width="2.4"/>
<line x1="964" y1="197.5" x2="982" y2="197.5" stroke="#0000f0" stroke-width="2.4"/>
<rect x="968.0" y="192.5" width="10" height="10" fill="#0000f0"/>
<text x="993" y="184.0" font-size="13" font-weight="bold" text-anchor="start" fill="#000" >sham</text>
<text x="993" y="202.0" font-size="13" font-weight="bold" text-anchor="start" fill="#000" >banded</text>
<path d="M1023.30,139.70 L1023.30,136.80 M1023.30,139.70 L1026.06,138.80 M1023.30,139.70 L1025.00,142.05 M1023.30,139.70 L1021.60,142.05 M1023.30,139.70 L1020.54,138.80 " stroke="#000" stroke-width="2.2" stroke-linecap="round" fill="none"/>
<path d="M1032.30,139.70 L1032.30,136.80 M1032.30,139.70 L1035.06,138.80 M1032.30,139.70 L1034.00,142.05 M1032.30,139.70 L1030.60,142.05 M1032.30,139.70 L1029.54,138.80 " stroke="#000" stroke-width="2.2" stroke-linecap="round" fill="none"/>
<path d="M1016.94,147.75 Q1018.30,146.25 1019.66,147.75 L1019.79,152.47 L1019.08,156.35 L1017.52,156.35 L1016.81,152.47 Z" fill="#000"/>
<rect x="1015.20" y="149.17" width="6.21" height="1.94" fill="#000"/>
<path d="M1026.14,147.75 Q1027.50,146.25 1028.86,147.75 L1028.99,152.47 L1028.28,156.35 L1026.72,156.35 L1026.01,152.47 Z" fill="#000"/>
<rect x="1024.40" y="149.17" width="6.21" height="1.94" fill="#000"/>
<path d="M1035.34,147.75 Q1036.70,146.25 1038.06,147.75 L1038.19,152.47 L1037.48,156.35 L1035.92,156.35 L1035.21,152.47 Z" fill="#000"/>
<rect x="1033.60" y="149.17" width="6.21" height="1.94" fill="#000"/>
<path d="M1062.60,160.00 L1062.60,157.10 M1062.60,160.00 L1065.36,159.10 M1062.60,160.00 L1064.30,162.35 M1062.60,160.00 L1060.90,162.35 M1062.60,160.00 L1059.84,159.10 " stroke="#000" stroke-width="2.2" stroke-linecap="round" fill="none"/>
<path d="M1072.20,160.00 L1072.20,157.10 M1072.20,160.00 L1074.96,159.10 M1072.20,160.00 L1073.90,162.35 M1072.20,160.00 L1070.50,162.35 M1072.20,160.00 L1069.44,159.10 " stroke="#000" stroke-width="2.2" stroke-linecap="round" fill="none"/>
<path d="M1081.80,160.00 L1081.80,157.10 M1081.80,160.00 L1084.56,159.10 M1081.80,160.00 L1083.50,162.35 M1081.80,160.00 L1080.10,162.35 M1081.80,160.00 L1079.04,159.10 " stroke="#000" stroke-width="2.2" stroke-linecap="round" fill="none"/>
<path d="M1091.40,160.00 L1091.40,157.10 M1091.40,160.00 L1094.16,159.10 M1091.40,160.00 L1093.10,162.35 M1091.40,160.00 L1089.70,162.35 M1091.40,160.00 L1088.64,159.10 " stroke="#000" stroke-width="2.2" stroke-linecap="round" fill="none"/>
<path d="M1060.87,169.50 Q1062.30,168.00 1063.73,169.50 L1063.87,174.52 L1063.12,178.60 L1061.48,178.60 L1060.73,174.52 Z" fill="#000"/>
<rect x="1059.04" y="171.05" width="6.53" height="2.04" fill="#000"/>
<path d="M1069.87,169.50 Q1071.30,168.00 1072.73,169.50 L1072.87,174.52 L1072.12,178.60 L1070.48,178.60 L1069.73,174.52 Z" fill="#000"/>
<rect x="1068.04" y="171.05" width="6.53" height="2.04" fill="#000"/>
<path d="M1078.87,169.50 Q1080.30,168.00 1081.73,169.50 L1081.87,174.52 L1081.12,178.60 L1079.48,178.60 L1078.73,174.52 Z" fill="#000"/>
<rect x="1077.04" y="171.05" width="6.53" height="2.04" fill="#000"/>
<path d="M1087.87,169.50 Q1089.30,168.00 1090.73,169.50 L1090.87,174.52 L1090.12,178.60 L1088.48,178.60 L1087.73,174.52 Z" fill="#000"/>
<rect x="1086.04" y="171.05" width="6.53" height="2.04" fill="#000"/>
<path d="M1109.80,170.60 L1109.80,167.70 M1109.80,170.60 L1112.56,169.70 M1109.80,170.60 L1111.50,172.95 M1109.80,170.60 L1108.10,172.95 M1109.80,170.60 L1107.04,169.70 " stroke="#000" stroke-width="2.2" stroke-linecap="round" fill="none"/>
<path d="M1119.40,170.60 L1119.40,167.70 M1119.40,170.60 L1122.16,169.70 M1119.40,170.60 L1121.10,172.95 M1119.40,170.60 L1117.70,172.95 M1119.40,170.60 L1116.64,169.70 " stroke="#000" stroke-width="2.2" stroke-linecap="round" fill="none"/>
<path d="M1129.00,170.60 L1129.00,167.70 M1129.00,170.60 L1131.76,169.70 M1129.00,170.60 L1130.70,172.95 M1129.00,170.60 L1127.30,172.95 M1129.00,170.60 L1126.24,169.70 " stroke="#000" stroke-width="2.2" stroke-linecap="round" fill="none"/>
<path d="M1138.60,170.60 L1138.60,167.70 M1138.60,170.60 L1141.36,169.70 M1138.60,170.60 L1140.30,172.95 M1138.60,170.60 L1136.90,172.95 M1138.60,170.60 L1135.84,169.70 " stroke="#000" stroke-width="2.2" stroke-linecap="round" fill="none"/>
<path d="M1106.40,180.30 Q1107.80,178.80 1109.20,180.30 L1109.34,185.20 L1108.60,189.20 L1107.00,189.20 L1106.26,185.20 Z" fill="#000"/>
<rect x="1104.60" y="181.80" width="6.40" height="2.00" fill="#000"/>
<path d="M1115.40,180.30 Q1116.80,178.80 1118.20,180.30 L1118.34,185.20 L1117.60,189.20 L1116.00,189.20 L1115.26,185.20 Z" fill="#000"/>
<rect x="1113.60" y="181.80" width="6.40" height="2.00" fill="#000"/>
<path d="M1124.40,180.30 Q1125.80,178.80 1127.20,180.30 L1127.34,185.20 L1126.60,189.20 L1125.00,189.20 L1124.26,185.20 Z" fill="#000"/>
<rect x="1122.60" y="181.80" width="6.40" height="2.00" fill="#000"/>
<path d="M1133.40,180.30 Q1134.80,178.80 1136.20,180.30 L1136.34,185.20 L1135.60,189.20 L1134.00,189.20 L1133.26,185.20 Z" fill="#000"/>
<rect x="1131.60" y="181.80" width="6.40" height="2.00" fill="#000"/>
<path d="M1158.90,190.00 L1158.90,187.10 M1158.90,190.00 L1161.66,189.10 M1158.90,190.00 L1160.60,192.35 M1158.90,190.00 L1157.20,192.35 M1158.90,190.00 L1156.14,189.10 " stroke="#000" stroke-width="2.2" stroke-linecap="round" fill="none"/>
<path d="M1168.50,190.00 L1168.50,187.10 M1168.50,190.00 L1171.26,189.10 M1168.50,190.00 L1170.20,192.35 M1168.50,190.00 L1166.80,192.35 M1168.50,190.00 L1165.74,189.10 " stroke="#000" stroke-width="2.2" stroke-linecap="round" fill="none"/>
<path d="M1178.10,190.00 L1178.10,187.10 M1178.10,190.00 L1180.86,189.10 M1178.10,190.00 L1179.80,192.35 M1178.10,190.00 L1176.40,192.35 M1178.10,190.00 L1175.34,189.10 " stroke="#000" stroke-width="2.2" stroke-linecap="round" fill="none"/>
<path d="M1187.70,190.00 L1187.70,187.10 M1187.70,190.00 L1190.46,189.10 M1187.70,190.00 L1189.40,192.35 M1187.70,190.00 L1186.00,192.35 M1187.70,190.00 L1184.94,189.10 " stroke="#000" stroke-width="2.2" stroke-linecap="round" fill="none"/>
<path d="M1158.18,196.80 Q1159.50,195.30 1160.82,196.80 L1160.95,201.34 L1160.25,205.10 L1158.75,205.10 L1158.05,201.34 Z" fill="#000"/>
<rect x="1156.49" y="198.14" width="6.02" height="1.88" fill="#000"/>
<path d="M1167.18,196.80 Q1168.50,195.30 1169.82,196.80 L1169.95,201.34 L1169.25,205.10 L1167.75,205.10 L1167.05,201.34 Z" fill="#000"/>
<rect x="1165.49" y="198.14" width="6.02" height="1.88" fill="#000"/>
<path d="M1176.18,196.80 Q1177.50,195.30 1178.82,196.80 L1178.95,201.34 L1178.25,205.10 L1176.75,205.10 L1176.05,201.34 Z" fill="#000"/>
<rect x="1174.49" y="198.14" width="6.02" height="1.88" fill="#000"/>
<path d="M1185.18,196.80 Q1186.50,195.30 1187.82,196.80 L1187.95,201.34 L1187.25,205.10 L1185.75,205.10 L1185.05,201.34 Z" fill="#000"/>
<rect x="1183.49" y="198.14" width="6.02" height="1.88" fill="#000"/>
<text x="14" y="574.6" font-size="26" font-weight="bold" text-anchor="start" fill="#000" >i</text>
<text x="185" y="574.6" font-size="25.5" font-weight="bold" text-anchor="start" fill="#000" >E/A</text>
<line x1="58.3" y1="666.9" x2="58.3" y2="826.6" stroke="#000" stroke-width="2.7"/>
<line x1="57" y1="825.3" x2="377.5" y2="825.3" stroke="#000" stroke-width="2.7"/>
<line x1="52.8" y1="668.3" x2="63.4" y2="668.3" stroke="#000" stroke-width="2.7"/>
<line x1="58.3" y1="611.2" x2="58.3" y2="653" stroke="#000" stroke-width="2.7"/>
<line x1="52.8" y1="612.5" x2="58.3" y2="612.5" stroke="#000" stroke-width="2.7"/>
<line x1="52.8" y1="645.8" x2="58.3" y2="645.8" stroke="#000" stroke-width="2.7"/>
<line x1="52.8" y1="653" x2="63" y2="653" stroke="#000" stroke-width="2.7"/>
<text x="48" y="618.8" font-size="18" font-weight="bold" text-anchor="end" fill="#000" >8</text>
<text x="48" y="652.1" font-size="18" font-weight="bold" text-anchor="end" fill="#000" >4</text>
<text x="48" y="674.6999999999999" font-size="18" font-weight="bold" text-anchor="end" fill="#000" >3.0</text>
<line x1="52.8" y1="699.6999999999999" x2="58.3" y2="699.6999999999999" stroke="#000" stroke-width="2.7"/>
<text x="48" y="706.0999999999999" font-size="18" font-weight="bold" text-anchor="end" fill="#000" >2.5</text>
<line x1="52.8" y1="731.0999999999999" x2="58.3" y2="731.0999999999999" stroke="#000" stroke-width="2.7"/>
<text x="48" y="737.4999999999999" font-size="18" font-weight="bold" text-anchor="end" fill="#000" >2.0</text>
<line x1="52.8" y1="762.5" x2="58.3" y2="762.5" stroke="#000" stroke-width="2.7"/>
<text x="48" y="768.9" font-size="18" font-weight="bold" text-anchor="end" fill="#000" >1.5</text>
<line x1="52.8" y1="793.9" x2="58.3" y2="793.9" stroke="#000" stroke-width="2.7"/>
<text x="48" y="800.3" font-size="18" font-weight="bold" text-anchor="end" fill="#000" >1.0</text>
<line x1="52.8" y1="825.3" x2="58.3" y2="825.3" stroke="#000" stroke-width="2.7"/>
<text x="48" y="831.6999999999999" font-size="18" font-weight="bold" text-anchor="end" fill="#000" >0.5</text>
<line x1="89.2" y1="825.3" x2="89.2" y2="831.5" stroke="#000" stroke-width="2.7"/>
<text x="89.7" y="852.7" font-size="19" font-weight="bold" text-anchor="middle" fill="#000" >BL</text>
<line x1="153.3" y1="825.3" x2="153.3" y2="831.5" stroke="#000" stroke-width="2.7"/>
<text x="153.8" y="852.7" font-size="19" font-weight="bold" text-anchor="middle" fill="#000" >1mo</text>
<line x1="217" y1="825.3" x2="217" y2="831.5" stroke="#000" stroke-width="2.7"/>
<text x="217.5" y="852.7" font-size="19" font-weight="bold" text-anchor="middle" fill="#000" >2mo</text>
<line x1="280.8" y1="825.3" x2="280.8" y2="831.5" stroke="#000" stroke-width="2.7"/>
<text x="281.3" y="852.7" font-size="19" font-weight="bold" text-anchor="middle" fill="#000" >3mo</text>
<line x1="344.2" y1="825.3" x2="344.2" y2="831.5" stroke="#000" stroke-width="2.7"/>
<text x="344.7" y="852.7" font-size="19" font-weight="bold" text-anchor="middle" fill="#000" >4mo</text>
<circle cx="71.7" cy="626" r="3.5" fill="none" stroke="#000" stroke-width="1.75"/>
<path d="M67.3,642.4 L76.10000000000001,642.4 L71.7,649.7 Z" fill="#0000f0"/>
<text x="95" y="632" font-size="17" font-weight="bold" text-anchor="start" fill="#000" >sham</text>
<text x="95" y="652" font-size="17" font-weight="bold" text-anchor="start" fill="#000" >banded</text>
<circle cx="71.7" cy="743.7" r="3.5" fill="none" stroke="#000" stroke-width="1.75"/>
<circle cx="76" cy="754" r="3.5" fill="none" stroke="#000" stroke-width="1.75"/>
<circle cx="80" cy="756" r="3.5" fill="none" stroke="#000" stroke-width="1.75"/>
<circle cx="84.5" cy="754" r="3.5" fill="none" stroke="#000" stroke-width="1.75"/>
<circle cx="84" cy="766" r="3.5" fill="none" stroke="#000" stroke-width="1.75"/>
<circle cx="72" cy="774" r="3.5" fill="none" stroke="#000" stroke-width="1.75"/>
<circle cx="76" cy="779" r="3.5" fill="none" stroke="#000" stroke-width="1.75"/>
<circle cx="80.5" cy="777" r="3.5" fill="none" stroke="#000" stroke-width="1.75"/>
<circle cx="141.7" cy="733.3" r="3.5" fill="none" stroke="#000" stroke-width="1.75"/>
<circle cx="135.5" cy="748" r="3.5" fill="none" stroke="#000" stroke-width="1.75"/>
<circle cx="142" cy="753" r="3.5" fill="none" stroke="#000" stroke-width="1.75"/>
<circle cx="147" cy="756" r="3.5" fill="none" stroke="#000" stroke-width="1.75"/>
<circle cx="149.5" cy="752" r="3.5" fill="none" stroke="#000" stroke-width="1.75"/>
<circle cx="143" cy="767" r="3.5" fill="none" stroke="#000" stroke-width="1.75"/>
<circle cx="142" cy="772" r="3.5" fill="none" stroke="#000" stroke-width="1.75"/>
<circle cx="141" cy="774" r="3.5" fill="none" stroke="#000" stroke-width="1.75"/>
<circle cx="205.3" cy="714.3" r="3.5" fill="none" stroke="#000" stroke-width="1.75"/>
<circle cx="201" cy="737.5" r="3.5" fill="none" stroke="#000" stroke-width="1.75"/>
<circle cx="212" cy="735" r="3.5" fill="none" stroke="#000" stroke-width="1.75"/>
<circle cx="206" cy="749" r="3.5" fill="none" stroke="#000" stroke-width="1.75"/>
<circle cx="203" cy="753" r="3.5" fill="none" stroke="#000" stroke-width="1.75"/>
<circle cx="207" cy="757" r="3.5" fill="none" stroke="#000" stroke-width="1.75"/>
<circle cx="211" cy="762.5" r="3.5" fill="none" stroke="#000" stroke-width="1.75"/>
<circle cx="201.5" cy="774.7" r="3.5" fill="none" stroke="#000" stroke-width="1.75"/>
<circle cx="269.2" cy="729" r="3.5" fill="none" stroke="#000" stroke-width="1.75"/>
<circle cx="269.2" cy="732" r="3.5" fill="none" stroke="#000" stroke-width="1.75"/>
<circle cx="269.2" cy="735" r="3.5" fill="none" stroke="#000" stroke-width="1.75"/>
<circle cx="269.2" cy="738" r="3.5" fill="none" stroke="#000" stroke-width="1.75"/>
<circle cx="269.2" cy="740.8" r="3.5" fill="none" stroke="#000" stroke-width="1.75"/>
<circle cx="267" cy="750" r="3.5" fill="none" stroke="#000" stroke-width="1.75"/>
<circle cx="270" cy="757.5" r="3.5" fill="none" stroke="#000" stroke-width="1.75"/>
<circle cx="268" cy="761.3" r="3.5" fill="none" stroke="#000" stroke-width="1.75"/>
<circle cx="332.5" cy="721.7" r="3.5" fill="none" stroke="#000" stroke-width="1.75"/>
<circle cx="332.5" cy="737.5" r="3.5" fill="none" stroke="#000" stroke-width="1.75"/>
<circle cx="334" cy="740.8" r="3.5" fill="none" stroke="#000" stroke-width="1.75"/>
<circle cx="332" cy="752.5" r="3.5" fill="none" stroke="#000" stroke-width="1.75"/>
<circle cx="331" cy="760.8" r="3.5" fill="none" stroke="#000" stroke-width="1.75"/>
<circle cx="334" cy="763.3" r="3.5" fill="none" stroke="#000" stroke-width="1.75"/>
<circle cx="332.5" cy="766.7" r="3.5" fill="none" stroke="#000" stroke-width="1.75"/>
<path d="M97.6,739.4 L106.4,739.4 L102,746.7 Z" fill="#0000f0"/>
<path d="M93.6,751.4 L102.4,751.4 L98,758.7 Z" fill="#0000f0"/>
<path d="M101.6,751.4 L110.4,751.4 L106,758.7 Z" fill="#0000f0"/>
<path d="M95.6,756.4 L104.4,756.4 L100,763.7 Z" fill="#0000f0"/>
<path d="M99.6,761.4 L108.4,761.4 L104,768.7 Z" fill="#0000f0"/>
<path d="M97.6,765.4 L106.4,765.4 L102,772.7 Z" fill="#0000f0"/>
<path d="M93.6,766.4 L102.4,766.4 L98,773.7 Z" fill="#0000f0"/>
<path d="M101.6,766.4 L110.4,766.4 L106,773.7 Z" fill="#0000f0"/>
<path d="M97.6,771.4 L106.4,771.4 L102,778.7 Z" fill="#0000f0"/>
<path d="M97.6,775.4 L106.4,775.4 L102,782.7 Z" fill="#0000f0"/>
<path d="M161.1,707.6999999999999 L169.9,707.6999999999999 L165.5,715.0 Z" fill="#0000f0"/>
<path d="M160.1,743.9 L168.9,743.9 L164.5,751.2 Z" fill="#0000f0"/>
<path d="M161.6,750.4 L170.4,750.4 L166,757.7 Z" fill="#0000f0"/>
<path d="M162.1,756.4 L170.9,756.4 L166.5,763.7 Z" fill="#0000f0"/>
<path d="M160.6,762.4 L169.4,762.4 L165,769.7 Z" fill="#0000f0"/>
<path d="M152.6,776.4 L161.4,776.4 L157,783.7 Z" fill="#0000f0"/>
<path d="M167.1,778.4 L175.9,778.4 L171.5,785.7 Z" fill="#0000f0"/>
<path d="M160.6,795.4 L169.4,795.4 L165,802.7 Z" fill="#0000f0"/>
<path d="M160.6,800.4 L169.4,800.4 L165,807.7 Z" fill="#0000f0"/>
<path d="M160.6,805.4 L169.4,805.4 L165,812.7 Z" fill="#0000f0"/>
<path d="M224.79999999999998,645.1 L233.6,645.1 L229.2,652.4000000000001 Z" fill="#0000f0"/>
<path d="M224.79999999999998,704.6999999999999 L233.6,704.6999999999999 L229.2,712.0 Z" fill="#0000f0"/>
<path d="M220.6,738.1 L229.4,738.1 L225,745.4000000000001 Z" fill="#0000f0"/>
<path d="M231.4,732.1999999999999 L240.20000000000002,732.1999999999999 L235.8,739.5 Z" fill="#0000f0"/>
<path d="M224.79999999999998,777.1999999999999 L233.6,777.1999999999999 L229.2,784.5 Z" fill="#0000f0"/>
<path d="M228.1,795.4 L236.9,795.4 L232.5,802.7 Z" fill="#0000f0"/>
<path d="M217.6,801.4 L226.4,801.4 L222,808.7 Z" fill="#0000f0"/>
<path d="M222.6,803.4 L231.4,803.4 L227,810.7 Z" fill="#0000f0"/>
<path d="M227.6,802.4 L236.4,802.4 L232,809.7 Z" fill="#0000f0"/>
<path d="M231.6,801.4 L240.4,801.4 L236,808.7 Z" fill="#0000f0"/>
<path d="M288.6,641.4 L297.4,641.4 L293,648.7 Z" fill="#0000f0"/>
<path d="M288.6,723.1 L297.4,723.1 L293,730.4000000000001 Z" fill="#0000f0"/>
<path d="M294.8,738.9 L303.59999999999997,738.9 L299.2,746.2 Z" fill="#0000f0"/>
<path d="M282.3,746.4 L291.09999999999997,746.4 L286.7,753.7 Z" fill="#0000f0"/>
<path d="M281.40000000000003,762.1999999999999 L290.2,762.1999999999999 L285.8,769.5 Z" fill="#0000f0"/>
<path d="M292.3,767.1999999999999 L301.09999999999997,767.1999999999999 L296.7,774.5 Z" fill="#0000f0"/>
<path d="M288.6,791.4 L297.4,791.4 L293,798.7 Z" fill="#0000f0"/>
<path d="M288.6,796.4 L297.4,796.4 L293,803.7 Z" fill="#0000f0"/>
<path d="M288.6,803.1 L297.4,803.1 L293,810.4000000000001 Z" fill="#0000f0"/>
<path d="M352.3,613.1 L361.09999999999997,613.1 L356.7,620.4000000000001 Z" fill="#0000f0"/>
<path d="M352.3,628.1 L361.09999999999997,628.1 L356.7,635.4000000000001 Z" fill="#0000f0"/>
<path d="M345.6,718.9 L354.4,718.9 L350,726.2 Z" fill="#0000f0"/>
<path d="M355.90000000000003,730.6 L364.7,730.6 L360.3,737.9000000000001 Z" fill="#0000f0"/>
<path d="M358.1,768.9 L366.9,768.9 L362.5,776.2 Z" fill="#0000f0"/>
<path d="M348.1,773.1 L356.9,773.1 L352.5,780.4000000000001 Z" fill="#0000f0"/>
<path d="M345.6,778.1 L354.4,778.1 L350,785.4000000000001 Z" fill="#0000f0"/>
<path d="M355.90000000000003,786.4 L364.7,786.4 L360.3,793.7 Z" fill="#0000f0"/>
<path d="M352.3,804.6999999999999 L361.09999999999997,804.6999999999999 L356.7,812.0 Z" fill="#0000f0"/>
<path d="M352.3,808.1 L361.09999999999997,808.1 L356.7,815.4000000000001 Z" fill="#0000f0"/>
<line x1="70" y1="763" x2="88.3" y2="763" stroke="#000" stroke-width="2"/>
<line x1="79.15" y1="763" x2="79.15" y2="757.5" stroke="#000" stroke-width="1.8"/>
<line x1="75.15" y1="757.5" x2="83.15" y2="757.5" stroke="#000" stroke-width="1.8"/>
<line x1="94" y1="762.3" x2="110" y2="762.3" stroke="#0000f0" stroke-width="2"/>
<line x1="102.0" y1="762.3" x2="102.0" y2="758" stroke="#0000f0" stroke-width="1.8"/>
<line x1="98.0" y1="758" x2="106.0" y2="758" stroke="#0000f0" stroke-width="1.8"/>
<line x1="133" y1="755.8" x2="150" y2="755.8" stroke="#000" stroke-width="2"/>
<line x1="141.5" y1="755.8" x2="141.5" y2="751" stroke="#000" stroke-width="1.8"/>
<line x1="137.5" y1="751" x2="145.5" y2="751" stroke="#000" stroke-width="1.8"/>
<line x1="157" y1="779" x2="172" y2="779" stroke="#0000f0" stroke-width="2"/>
<line x1="164.5" y1="779" x2="164.5" y2="770" stroke="#0000f0" stroke-width="1.8"/>
<line x1="160.5" y1="770" x2="168.5" y2="770" stroke="#0000f0" stroke-width="1.8"/>
<line x1="198" y1="748.3" x2="213" y2="748.3" stroke="#000" stroke-width="2"/>
<line x1="205.5" y1="748.3" x2="205.5" y2="741" stroke="#000" stroke-width="1.8"/>
<line x1="201.5" y1="741" x2="209.5" y2="741" stroke="#000" stroke-width="1.8"/>
<line x1="221.7" y1="770" x2="237" y2="770" stroke="#0000f0" stroke-width="2"/>
<line x1="229.35" y1="770" x2="229.35" y2="753.7" stroke="#0000f0" stroke-width="1.8"/>
<line x1="225.35" y1="753.7" x2="233.35" y2="753.7" stroke="#0000f0" stroke-width="1.8"/>
<line x1="261.3" y1="743.3" x2="276.7" y2="743.3" stroke="#000" stroke-width="2"/>
<line x1="269.0" y1="743.3" x2="269.0" y2="738" stroke="#000" stroke-width="1.8"/>
<line x1="265.0" y1="738" x2="273.0" y2="738" stroke="#000" stroke-width="1.8"/>
<line x1="282.5" y1="764.2" x2="300.8" y2="764.2" stroke="#0000f0" stroke-width="2"/>
<line x1="291.65" y1="764.2" x2="291.65" y2="746.7" stroke="#0000f0" stroke-width="1.8"/>
<line x1="287.65" y1="746.7" x2="295.65" y2="746.7" stroke="#0000f0" stroke-width="1.8"/>
<line x1="325" y1="749.7" x2="340.8" y2="749.7" stroke="#000" stroke-width="2"/>
<line x1="332.9" y1="749.7" x2="332.9" y2="745" stroke="#000" stroke-width="1.8"/>
<line x1="328.9" y1="745" x2="336.9" y2="745" stroke="#000" stroke-width="1.8"/>
<line x1="348.3" y1="719.2" x2="365" y2="719.2" stroke="#0000f0" stroke-width="2"/>
<line x1="356.65" y1="719.2" x2="356.65" y2="676.7" stroke="#0000f0" stroke-width="1.8"/>
<line x1="352.65" y1="676.7" x2="360.65" y2="676.7" stroke="#0000f0" stroke-width="1.8"/>
<text x="400" y="574.6" font-size="26" font-weight="bold" text-anchor="start" fill="#000" >j</text>
<text x="585" y="574.6" font-size="25.5" font-weight="bold" text-anchor="start" fill="#000" >E/e´</text>
<line x1="438.5" y1="612.5" x2="438.5" y2="828.2" stroke="#000" stroke-width="3"/>
<line x1="437" y1="826.7" x2="758" y2="826.7" stroke="#000" stroke-width="3"/>
<line x1="432.3" y1="614.0" x2="438.5" y2="614.0" stroke="#000" stroke-width="3"/>
<text x="427.7" y="620.5" font-size="18.3" font-weight="bold" text-anchor="end" fill="#000" >20</text>
<line x1="432.3" y1="684.9000000000001" x2="438.5" y2="684.9000000000001" stroke="#000" stroke-width="3"/>
<text x="427.7" y="691.4000000000001" font-size="18.3" font-weight="bold" text-anchor="end" fill="#000" >15</text>
<line x1="432.3" y1="755.8000000000001" x2="438.5" y2="755.8000000000001" stroke="#000" stroke-width="3"/>
<text x="427.7" y="762.3000000000001" font-size="18.3" font-weight="bold" text-anchor="end" fill="#000" >10</text>
<line x1="432.3" y1="826.7" x2="438.5" y2="826.7" stroke="#000" stroke-width="3"/>
<text x="427.7" y="833.2" font-size="18.3" font-weight="bold" text-anchor="end" fill="#000" >5</text>
<line x1="470.3" y1="826.7" x2="470.3" y2="832.7" stroke="#000" stroke-width="3"/>
<text x="470.3" y="853.75" font-size="19" font-weight="bold" text-anchor="middle" fill="#000" >BL</text>
<line x1="533.6" y1="826.7" x2="533.6" y2="832.7" stroke="#000" stroke-width="3"/>
<text x="533.6" y="853.75" font-size="19" font-weight="bold" text-anchor="middle" fill="#000" >1mo</text>
<line x1="597.6" y1="826.7" x2="597.6" y2="832.7" stroke="#000" stroke-width="3"/>
<text x="597.6" y="853.75" font-size="19" font-weight="bold" text-anchor="middle" fill="#000" >2mo</text>
<line x1="661" y1="826.7" x2="661" y2="832.7" stroke="#000" stroke-width="3"/>
<text x="661" y="853.75" font-size="19" font-weight="bold" text-anchor="middle" fill="#000" >3mo</text>
<line x1="725" y1="826.7" x2="725" y2="832.7" stroke="#000" stroke-width="3"/>
<text x="725" y="853.75" font-size="19" font-weight="bold" text-anchor="middle" fill="#000" >4mo</text>
<line x1="470.3" y1="737.366" x2="470.3" y2="729.567" stroke="#0000f0" stroke-width="2.6"/>
<line x1="464.3" y1="729.567" x2="476.3" y2="729.567" stroke="#0000f0" stroke-width="2.6"/>
<line x1="533.6" y1="690.5720000000001" x2="533.6" y2="676.392" stroke="#0000f0" stroke-width="2.6"/>
<line x1="527.6" y1="676.392" x2="539.6" y2="676.392" stroke="#0000f0" stroke-width="2.6"/>
<line x1="597.6" y1="691.2810000000001" x2="597.6" y2="680.6460000000001" stroke="#0000f0" stroke-width="2.6"/>
<line x1="591.6" y1="680.6460000000001" x2="603.6" y2="680.6460000000001" stroke="#0000f0" stroke-width="2.6"/>
<line x1="661" y1="689.154" x2="661" y2="672.8470000000001" stroke="#0000f0" stroke-width="2.6"/>
<line x1="655" y1="672.8470000000001" x2="667" y2="672.8470000000001" stroke="#0000f0" stroke-width="2.6"/>
<line x1="725" y1="649.45" x2="725" y2="622.508" stroke="#0000f0" stroke-width="2.6"/>
<line x1="719" y1="622.508" x2="731" y2="622.508" stroke="#0000f0" stroke-width="2.6"/>
<line x1="470.3" y1="744.456" x2="470.3" y2="744.456" stroke="#000" stroke-width="2.6"/>
<line x1="464.3" y1="744.456" x2="476.3" y2="744.456" stroke="#000" stroke-width="2.6"/>
<line x1="533.6" y1="728.8580000000001" x2="533.6" y2="716.096" stroke="#000" stroke-width="2.6"/>
<line x1="527.6" y1="716.096" x2="539.6" y2="716.096" stroke="#000" stroke-width="2.6"/>
<line x1="597.6" y1="723.186" x2="597.6" y2="710.4240000000001" stroke="#000" stroke-width="2.6"/>
<line x1="591.6" y1="710.4240000000001" x2="603.6" y2="710.4240000000001" stroke="#000" stroke-width="2.6"/>
<line x1="661" y1="730.2760000000001" x2="661" y2="723.186" stroke="#000" stroke-width="2.6"/>
<line x1="655" y1="723.186" x2="667" y2="723.186" stroke="#000" stroke-width="2.6"/>
<line x1="725" y1="736.657" x2="725" y2="729.567" stroke="#000" stroke-width="2.6"/>
<line x1="719" y1="729.567" x2="731" y2="729.567" stroke="#000" stroke-width="2.6"/>
<polyline points="470.3,737.366 533.6,690.5720000000001 597.6,691.2810000000001 661,689.154 725,649.45" fill="none" stroke="#0000f0" stroke-width="3.3" stroke-linejoin="round"/>
<rect x="464.05" y="731.116" width="12.5" height="12.5" fill="#0000f0"/>
<rect x="527.35" y="684.3220000000001" width="12.5" height="12.5" fill="#0000f0"/>
<rect x="591.35" y="685.0310000000001" width="12.5" height="12.5" fill="#0000f0"/>
<rect x="654.75" y="682.904" width="12.5" height="12.5" fill="#0000f0"/>
<rect x="718.75" y="643.2" width="12.5" height="12.5" fill="#0000f0"/>
<polyline points="470.3,744.456 533.6,728.8580000000001 597.6,723.186 661,730.2760000000001 725,736.657" fill="none" stroke="#000" stroke-width="3.3" stroke-linejoin="round"/>
<circle cx="470.3" cy="744.456" r="5.65" fill="#fff" stroke="#000" stroke-width="3"/>
<circle cx="533.6" cy="728.8580000000001" r="5.65" fill="#fff" stroke="#000" stroke-width="3"/>
<circle cx="597.6" cy="723.186" r="5.65" fill="#fff" stroke="#000" stroke-width="3"/>
<circle cx="661" cy="730.2760000000001" r="5.65" fill="#fff" stroke="#000" stroke-width="3"/>
<circle cx="725" cy="736.657" r="5.65" fill="#fff" stroke="#000" stroke-width="3"/>
<line x1="461" y1="620.7" x2="483.7" y2="620.7" stroke="#000" stroke-width="3.3"/>
<circle cx="472" cy="620.7" r="6.5" fill="#fff" stroke="#000" stroke-width="3.2"/>
<line x1="461" y1="644.4" x2="483.7" y2="644.4" stroke="#0000f0" stroke-width="3.3"/>
<rect x="465.75" y="638.15" width="12.5" height="12.5" fill="#0000f0"/>
<text x="497" y="626.7" font-size="16.3" font-weight="bold" text-anchor="start" fill="#000" >sham</text>
<text x="497" y="649.3" font-size="16.3" font-weight="bold" text-anchor="start" fill="#000" >banded</text>
<path d="M532.34,661.40 Q533.60,659.90 534.86,661.40 L534.99,665.70 L534.32,669.30 L532.88,669.30 L532.21,665.70 Z" fill="#000"/>
<rect x="530.72" y="662.64" width="5.76" height="1.80" fill="#000"/>
<path d="M596.64,661.60 Q597.90,660.10 599.16,661.60 L599.29,665.90 L598.62,669.50 L597.18,669.50 L596.51,665.90 Z" fill="#000"/>
<rect x="595.02" y="662.84" width="5.76" height="1.80" fill="#000"/>
<path d="M659.54,658.60 Q660.80,657.10 662.06,658.60 L662.19,662.90 L661.52,666.50 L660.08,666.50 L659.41,662.90 Z" fill="#000"/>
<rect x="657.92" y="659.84" width="5.76" height="1.80" fill="#000"/>
<path d="M709.08,590.75 Q710.30,589.25 711.52,590.75 L711.64,594.87 L711.00,598.35 L709.60,598.35 L708.96,594.87 Z" fill="#000"/>
<rect x="707.52" y="591.91" width="5.57" height="1.74" fill="#000"/>
<path d="M718.08,590.75 Q719.30,589.25 720.52,590.75 L720.64,594.87 L720.00,598.35 L718.60,598.35 L717.96,594.87 Z" fill="#000"/>
<rect x="716.52" y="591.91" width="5.57" height="1.74" fill="#000"/>
<path d="M727.08,590.75 Q728.30,589.25 729.52,590.75 L729.64,594.87 L729.00,598.35 L727.60,598.35 L726.96,594.87 Z" fill="#000"/>
<rect x="725.52" y="591.91" width="5.57" height="1.74" fill="#000"/>
<path d="M736.08,590.75 Q737.30,589.25 738.52,590.75 L738.64,594.87 L738.00,598.35 L736.60,598.35 L735.96,594.87 Z" fill="#000"/>
<rect x="734.52" y="591.91" width="5.57" height="1.74" fill="#000"/>
<path d="M712.60,611.40 L712.60,607.59 M712.60,611.40 L716.22,610.22 M712.60,611.40 L714.84,614.48 M712.60,611.40 L710.36,614.48 M712.60,611.40 L708.98,610.22 " stroke="#000" stroke-width="2.8875" stroke-linecap="round" fill="none"/>
<path d="M725.10,611.40 L725.10,607.59 M725.10,611.40 L728.72,610.22 M725.10,611.40 L727.34,614.48 M725.10,611.40 L722.86,614.48 M725.10,611.40 L721.48,610.22 " stroke="#000" stroke-width="2.8875" stroke-linecap="round" fill="none"/>
<path d="M737.60,611.40 L737.60,607.59 M737.60,611.40 L741.22,610.22 M737.60,611.40 L739.84,614.48 M737.60,611.40 L735.36,614.48 M737.60,611.40 L733.98,610.22 " stroke="#000" stroke-width="2.8875" stroke-linecap="round" fill="none"/>
<text x="825" y="574.6" font-size="24" font-weight="bold" text-anchor="start" fill="#000" >k</text>
<rect x="940.9000000000001" y="618.9" width="22.38799999999992" height="206.0" fill="#d9d9d9"/>
<rect x="864" y="775.975" width="308" height="10.299999999999955" fill="#d9d9d9"/>
<line x1="940.9000000000001" y1="618.9" x2="940.9000000000001" y2="824.9" stroke="#000" stroke-width="2" stroke-dasharray="2,3"/>
<line x1="963.288" y1="618.9" x2="963.288" y2="824.9" stroke="#000" stroke-width="2" stroke-dasharray="2,3"/>
<line x1="864" y1="775.975" x2="1172" y2="775.975" stroke="#000" stroke-width="2" stroke-dasharray="2,3"/>
<line x1="864" y1="786.275" x2="1172" y2="786.275" stroke="#000" stroke-width="2" stroke-dasharray="2,3"/>
<path d="M940.9000000000001,618.9 V609.9 H963.288 V618.9" fill="none" stroke="#000" stroke-width="1.6"/>
<path d="M1172,775.975 H1178 V786.275 H1172" fill="none" stroke="#000" stroke-width="1.6"/>
<text x="952" y="606" font-size="11.2" font-weight="bold" text-anchor="middle" fill="#000" >sham IQR</text>
<text x="1145.5" y="769.5" font-size="11.2" font-weight="bold" text-anchor="middle" fill="#000" >sham IQR</text>
<line x1="863.7" y1="617.5" x2="863.7" y2="826.4" stroke="#000" stroke-width="3"/>
<line x1="862.2" y1="824.9" x2="1173" y2="824.9" stroke="#000" stroke-width="3"/>
<line x1="858" y1="618.9" x2="863.7" y2="618.9" stroke="#000" stroke-width="3"/>
<text x="855.7" y="625.6999999999999" font-size="19" font-weight="bold" text-anchor="end" fill="#000" >8</text>
<line x1="858" y1="670.4" x2="863.7" y2="670.4" stroke="#000" stroke-width="3"/>
<text x="855.7" y="677.1999999999999" font-size="19" font-weight="bold" text-anchor="end" fill="#000" >6</text>
<line x1="858" y1="721.9" x2="863.7" y2="721.9" stroke="#000" stroke-width="3"/>
<text x="855.7" y="728.6999999999999" font-size="19" font-weight="bold" text-anchor="end" fill="#000" >4</text>
<line x1="858" y1="773.4" x2="863.7" y2="773.4" stroke="#000" stroke-width="3"/>
<text x="855.7" y="780.1999999999999" font-size="19" font-weight="bold" text-anchor="end" fill="#000" >2</text>
<line x1="858" y1="824.9" x2="863.7" y2="824.9" stroke="#000" stroke-width="3"/>
<text x="855.7" y="831.6999999999999" font-size="19" font-weight="bold" text-anchor="end" fill="#000" >0</text>
<line x1="863.7" y1="824.9" x2="863.7" y2="831" stroke="#000" stroke-width="3"/>
<text x="863.7" y="851.7" font-size="18.8" font-weight="bold" text-anchor="middle" fill="#000" >0</text>
<line x1="940.9000000000001" y1="824.9" x2="940.9000000000001" y2="831" stroke="#000" stroke-width="3"/>
<text x="940.9000000000001" y="851.7" font-size="18.8" font-weight="bold" text-anchor="middle" fill="#000" >10</text>
<line x1="1018.1" y1="824.9" x2="1018.1" y2="831" stroke="#000" stroke-width="3"/>
<text x="1018.1" y="851.7" font-size="18.8" font-weight="bold" text-anchor="middle" fill="#000" >20</text>
<line x1="1095.3" y1="824.9" x2="1095.3" y2="831" stroke="#000" stroke-width="3"/>
<text x="1095.3" y="851.7" font-size="18.8" font-weight="bold" text-anchor="middle" fill="#000" >30</text>
<line x1="1172.5" y1="824.9" x2="1172.5" y2="831" stroke="#000" stroke-width="3"/>
<text x="1172.5" y="851.7" font-size="18.8" font-weight="bold" text-anchor="middle" fill="#000" >40</text>
<text x="1018.5" y="886.3" font-size="23" font-weight="bold" text-anchor="middle">E/E´</text>
<text x="823.9" y="719.4" font-size="22" font-weight="bold" text-anchor="middle" transform="rotate(-90 823.9 719.4)">E/A</text>
<path d="M1108.4,635.9 L1117.0,635.9 L1112.7,628.3 Z" fill="#0000f0"/>
<path d="M1031.0,684.6 L1039.6,684.6 L1035.3,677 Z" fill="#0000f0"/>
<path d="M993.4000000000001,729.6 L1002.0,729.6 L997.7,722 Z" fill="#0000f0"/>
<path d="M981.7,742.6 L990.3,742.6 L986,735 Z" fill="#0000f0"/>
<path d="M964.0,773.6 L972.5999999999999,773.6 L968.3,766 Z" fill="#0000f0"/>
<path d="M985.0,767.6 L993.5999999999999,767.6 L989.3,760 Z" fill="#0000f0"/>
<path d="M994.7,769.3000000000001 L1003.3,769.3000000000001 L999,761.7 Z" fill="#0000f0"/>
<path d="M1002.4000000000001,775.3000000000001 L1011.0,775.3000000000001 L1006.7,767.7 Z" fill="#0000f0"/>
<path d="M1028.0,777.9 L1036.6,777.9 L1032.3,770.3 Z" fill="#0000f0"/>
<path d="M986.7,779.3000000000001 L995.3,779.3000000000001 L991,771.7 Z" fill="#0000f0"/>
<path d="M996.0,781.3000000000001 L1004.5999999999999,781.3000000000001 L1000.3,773.7 Z" fill="#0000f0"/>
<path d="M1003.4000000000001,780.9 L1012.0,780.9 L1007.7,773.3 Z" fill="#0000f0"/>
<path d="M1023.4000000000001,783.6 L1032.0,783.6 L1027.7,776 Z" fill="#0000f0"/>
<path d="M952.4000000000001,784.3000000000001 L961.0,784.3000000000001 L956.7,776.7 Z" fill="#0000f0"/>
<path d="M983.0,786.3000000000001 L991.5999999999999,786.3000000000001 L987.3,778.7 Z" fill="#0000f0"/>
<path d="M961.7,789.3000000000001 L970.3,789.3000000000001 L966,781.7 Z" fill="#0000f0"/>
<path d="M956.7,793.6 L965.3,793.6 L961,786 Z" fill="#0000f0"/>
<path d="M944.7,791.9 L953.3,791.9 L949,784.3 Z" fill="#0000f0"/>
<path d="M942.4000000000001,795.9 L951.0,795.9 L946.7,788.3 Z" fill="#0000f0"/>
<path d="M984.0,794.3000000000001 L992.5999999999999,794.3000000000001 L988.3,786.7 Z" fill="#0000f0"/>
<path d="M967.4000000000001,797.6 L976.0,797.6 L971.7,790 Z" fill="#0000f0"/>
<path d="M938.0,798.6 L946.5999999999999,798.6 L942.3,791 Z" fill="#0000f0"/>
<path d="M986.4000000000001,798.6 L995.0,798.6 L990.7,791 Z" fill="#0000f0"/>
<path d="M1013.4000000000001,801.3000000000001 L1022.0,801.3000000000001 L1017.7,793.7 Z" fill="#0000f0"/>
<path d="M961.7,804.3000000000001 L970.3,804.3000000000001 L966,796.7 Z" fill="#0000f0"/>
<path d="M952.4000000000001,806.9 L961.0,806.9 L956.7,799.3 Z" fill="#0000f0"/>
<path d="M979.0,807.6 L987.5999999999999,807.6 L983.3,800 Z" fill="#0000f0"/>
<path d="M935.0,809.6 L943.5999999999999,809.6 L939.3,802 Z" fill="#0000f0"/>
<path d="M942.4000000000001,809.3000000000001 L951.0,809.3000000000001 L946.7,801.7 Z" fill="#0000f0"/>
<path d="M947.4000000000001,808.6 L956.0,808.6 L951.7,801 Z" fill="#0000f0"/>
<path d="M958.4000000000001,809.6 L967.0,809.6 L962.7,802 Z" fill="#0000f0"/>
<path d="M967.4000000000001,810.3000000000001 L976.0,810.3000000000001 L971.7,802.7 Z" fill="#0000f0"/>
<path d="M974.0,809.3000000000001 L982.5999999999999,809.3000000000001 L978.3,801.7 Z" fill="#0000f0"/>
<path d="M995.0,808.6 L1003.5999999999999,808.6 L999.3,801 Z" fill="#0000f0"/>
<path d="M1000.0,808.6 L1008.5999999999999,808.6 L1004.3,801 Z" fill="#0000f0"/>
<path d="M1023.4000000000001,808.6 L1032.0,808.6 L1027.7,801 Z" fill="#0000f0"/>
<path d="M975.7,810.3000000000001 L984.3,810.3000000000001 L980,802.7 Z" fill="#0000f0"/>
<defs>
<filter id="spe" filterUnits="userSpaceOnUse" x="16" y="263" width="238" height="258" color-interpolation-filters="sRGB"><feTurbulence type="fractalNoise" baseFrequency="0.08 0.24" numOctaves="2" seed="3" result="t"/><feColorMatrix in="t" type="matrix" values="0.33 0.33 0.33 0 0 0.33 0.33 0.33 0 0 0.33 0.33 0.33 0 0 0 0 0 0 1" result="g"/><feComponentTransfer in="g" result="c0"><feFuncR type="linear" slope="3.0" intercept="-1.1"/><feFuncG type="linear" slope="3.0" intercept="-1.1"/><feFuncB type="linear" slope="3.0" intercept="-1.1"/></feComponentTransfer><feComponentTransfer in="c0" result="c"><feFuncR type="gamma" exponent="1.2"/><feFuncG type="gamma" exponent="1.2"/><feFuncB type="gamma" exponent="1.2"/></feComponentTransfer><feComposite in="SourceGraphic" in2="c" operator="arithmetic" k1="1.7" k2="0.3" k3="0" k4="0"/></filter>
<filter id="spf" filterUnits="userSpaceOnUse" x="267" y="262" width="236" height="259" color-interpolation-filters="sRGB"><feTurbulence type="fractalNoise" baseFrequency="0.08 0.24" numOctaves="2" seed="5" result="t"/><feColorMatrix in="t" type="matrix" values="0.33 0.33 0.33 0 0 0.33 0.33 0.33 0 0 0.33 0.33 0.33 0 0 0 0 0 0 1" result="g"/><feComponentTransfer in="g" result="c0"><feFuncR type="linear" slope="3.0" intercept="-1.1"/><feFuncG type="linear" slope="3.0" intercept="-1.1"/><feFuncB type="linear" slope="3.0" intercept="-1.1"/></feComponentTransfer><feComponentTransfer in="c0" result="c"><feFuncR type="gamma" exponent="1.2"/><feFuncG type="gamma" exponent="1.2"/><feFuncB type="gamma" exponent="1.2"/></feComponentTransfer><feComposite in="SourceGraphic" in2="c" operator="arithmetic" k1="1.7" k2="0.3" k3="0" k4="0"/></filter>
<filter id="spg" filterUnits="userSpaceOnUse" x="540" y="260" width="315" height="258" color-interpolation-filters="sRGB"><feTurbulence type="fractalNoise" baseFrequency="0.08 0.3" numOctaves="2" seed="8" result="t"/><feColorMatrix in="t" type="matrix" values="0.33 0.33 0.33 0 0 0.33 0.33 0.33 0 0 0.33 0.33 0.33 0 0 0 0 0 0 1" result="g"/><feComponentTransfer in="g" result="c0"><feFuncR type="linear" slope="3.6" intercept="-1.4"/><feFuncG type="linear" slope="3.6" intercept="-1.4"/><feFuncB type="linear" slope="3.6" intercept="-1.4"/></feComponentTransfer><feComponentTransfer in="c0" result="c"><feFuncR type="gamma" exponent="1.2"/><feFuncG type="gamma" exponent="1.2"/><feFuncB type="gamma" exponent="1.2"/></feComponentTransfer><feComposite in="SourceGraphic" in2="c" operator="arithmetic" k1="1.7" k2="0.3" k3="0" k4="0"/></filter>
<filter id="sph" filterUnits="userSpaceOnUse" x="870" y="260" width="309" height="258" color-interpolation-filters="sRGB"><feTurbulence type="fractalNoise" baseFrequency="0.08 0.3" numOctaves="2" seed="11" result="t"/><feColorMatrix in="t" type="matrix" values="0.33 0.33 0.33 0 0 0.33 0.33 0.33 0 0 0.33 0.33 0.33 0 0 0 0 0 0 1" result="g"/><feComponentTransfer in="g" result="c0"><feFuncR type="linear" slope="3.6" intercept="-1.4"/><feFuncG type="linear" slope="3.6" intercept="-1.4"/><feFuncB type="linear" slope="3.6" intercept="-1.4"/></feComponentTransfer><feComponentTransfer in="c0" result="c"><feFuncR type="gamma" exponent="1.2"/><feFuncG type="gamma" exponent="1.2"/><feFuncB type="gamma" exponent="1.2"/></feComponentTransfer><feComposite in="SourceGraphic" in2="c" operator="arithmetic" k1="1.7" k2="0.3" k3="0" k4="0"/></filter>
<filter id="b1" filterUnits="userSpaceOnUse" x="0" y="0" width="1200" height="1508" color-interpolation-filters="sRGB"><feGaussianBlur stdDeviation="0.5"/></filter>
<filter id="b2" filterUnits="userSpaceOnUse" x="0" y="0" width="1200" height="1508" color-interpolation-filters="sRGB"><feGaussianBlur stdDeviation="1.0"/></filter>
<filter id="b3" filterUnits="userSpaceOnUse" x="0" y="0" width="1200" height="1508" color-interpolation-filters="sRGB"><feGaussianBlur stdDeviation="1.5"/></filter>
<filter id="b4" filterUnits="userSpaceOnUse" x="0" y="0" width="1200" height="1508" color-interpolation-filters="sRGB"><feGaussianBlur stdDeviation="2.0"/></filter>
<filter id="b5" filterUnits="userSpaceOnUse" x="0" y="0" width="1200" height="1508" color-interpolation-filters="sRGB"><feGaussianBlur stdDeviation="2.5"/></filter>
<filter id="b6" filterUnits="userSpaceOnUse" x="0" y="0" width="1200" height="1508" color-interpolation-filters="sRGB"><feGaussianBlur stdDeviation="3.0"/></filter>
<filter id="b7" filterUnits="userSpaceOnUse" x="0" y="0" width="1200" height="1508" color-interpolation-filters="sRGB"><feGaussianBlur stdDeviation="3.5"/></filter>
<filter id="b8" filterUnits="userSpaceOnUse" x="0" y="0" width="1200" height="1508" color-interpolation-filters="sRGB"><feGaussianBlur stdDeviation="4.0"/></filter>
<filter id="b9" filterUnits="userSpaceOnUse" x="0" y="0" width="1200" height="1508" color-interpolation-filters="sRGB"><feGaussianBlur stdDeviation="4.5"/></filter>
<filter id="b10" filterUnits="userSpaceOnUse" x="0" y="0" width="1200" height="1508" color-interpolation-filters="sRGB"><feGaussianBlur stdDeviation="5.0"/></filter>
<filter id="b11" filterUnits="userSpaceOnUse" x="0" y="0" width="1200" height="1508" color-interpolation-filters="sRGB"><feGaussianBlur stdDeviation="5.5"/></filter>
<filter id="b12" filterUnits="userSpaceOnUse" x="0" y="0" width="1200" height="1508" color-interpolation-filters="sRGB"><feGaussianBlur stdDeviation="6.0"/></filter>
<filter id="b13" filterUnits="userSpaceOnUse" x="0" y="0" width="1200" height="1508" color-interpolation-filters="sRGB"><feGaussianBlur stdDeviation="6.5"/></filter>
<filter id="b14" filterUnits="userSpaceOnUse" x="0" y="0" width="1200" height="1508" color-interpolation-filters="sRGB"><feGaussianBlur stdDeviation="7.0"/></filter>
<filter id="b15" filterUnits="userSpaceOnUse" x="0" y="0" width="1200" height="1508" color-interpolation-filters="sRGB"><feGaussianBlur stdDeviation="7.5"/></filter>
<filter id="b16" filterUnits="userSpaceOnUse" x="0" y="0" width="1200" height="1508" color-interpolation-filters="sRGB"><feGaussianBlur stdDeviation="8.0"/></filter>
<filter id="b17" filterUnits="userSpaceOnUse" x="0" y="0" width="1200" height="1508" color-interpolation-filters="sRGB"><feGaussianBlur stdDeviation="8.5"/></filter>
<filter id="b18" filterUnits="userSpaceOnUse" x="0" y="0" width="1200" height="1508" color-interpolation-filters="sRGB"><feGaussianBlur stdDeviation="9.0"/></filter>
<filter id="b19" filterUnits="userSpaceOnUse" x="0" y="0" width="1200" height="1508" color-interpolation-filters="sRGB"><feGaussianBlur stdDeviation="9.5"/></filter>
<filter id="b20" filterUnits="userSpaceOnUse" x="0" y="0" width="1200" height="1508" color-interpolation-filters="sRGB"><feGaussianBlur stdDeviation="10.0"/></filter>
<filter id="b21" filterUnits="userSpaceOnUse" x="0" y="0" width="1200" height="1508" color-interpolation-filters="sRGB"><feGaussianBlur stdDeviation="10.5"/></filter>
<filter id="b22" filterUnits="userSpaceOnUse" x="0" y="0" width="1200" height="1508" color-interpolation-filters="sRGB"><feGaussianBlur stdDeviation="11.0"/></filter>
<filter id="b23" filterUnits="userSpaceOnUse" x="0" y="0" width="1200" height="1508" color-interpolation-filters="sRGB"><feGaussianBlur stdDeviation="11.5"/></filter>
<filter id="b24" filterUnits="userSpaceOnUse" x="0" y="0" width="1200" height="1508" color-interpolation-filters="sRGB"><feGaussianBlur stdDeviation="12.0"/></filter>
<clipPath id="ce"><rect x="16" y="263" width="238" height="258"/></clipPath>
<clipPath id="cf"><rect x="267" y="262" width="236" height="259"/></clipPath>
<clipPath id="cg"><rect x="540" y="260.5" width="315" height="257.5"/></clipPath>
<clipPath id="ch"><rect x="870" y="260" width="309" height="258"/></clipPath>
</defs>
<rect x="14.5" y="261.5" width="240" height="259" fill="#000"/>
<clipPath id="fe"><path d="M137,269.6 L-347,679.1999999999999 L597,703.1999999999999 Z"/></clipPath>
<g clip-path="url(#ce)"><g filter="url(#spe)"><g clip-path="url(#fe)">
<path d="M137,269.6 L-347,679.1999999999999 L597,703.1999999999999 Z" fill="#484848"/>
<ellipse cx="137" cy="302" rx="48" ry="42" fill="#8e8e8e" opacity="0.9" filter="url(#b14)"/>
<path d="M60,345 Q100,322 150,318" fill="none" stroke="#d8d8d8" stroke-width="13" opacity="0.75" filter="url(#b10)" stroke-linecap="round"/>
<ellipse cx="205" cy="370" rx="10" ry="45" fill="#909090" opacity="0.6" filter="url(#b10)"/>
<ellipse cx="35" cy="420" rx="25" ry="60" fill="#101010" opacity="0.7" filter="url(#b14)"/>
<ellipse cx="129" cy="424" rx="66" ry="66" fill="#161616" opacity="0.85" filter="url(#b10)"/>
<ellipse cx="129" cy="372" rx="40" ry="14" fill="#707070" opacity="0.5" filter="url(#b10)"/>
<ellipse cx="112" cy="430" rx="18" ry="28" fill="#707070" opacity="0.65" filter="url(#b8)"/>
<ellipse cx="145" cy="432" rx="12" ry="20" fill="#5a5a5a" opacity="0.6" filter="url(#b8)"/>
<ellipse cx="121" cy="430" rx="6" ry="18" fill="#000" opacity="0.85" filter="url(#b4)"/>
<ellipse cx="140" cy="415" rx="7" ry="8" fill="#000" opacity="0.7" filter="url(#b4)"/>
<ellipse cx="142" cy="432" rx="8" ry="4" fill="#e0e0e0" opacity="0.6" filter="url(#b3)"/>
<ellipse cx="55" cy="473" rx="28" ry="8" fill="#f4f4f4" opacity="0.85" filter="url(#b8)" transform="rotate(15 55 473)"/>
<ellipse cx="200" cy="455" rx="10" ry="25" fill="#b0b0b0" opacity="0.6" filter="url(#b8)" transform="rotate(30 200 455)"/>
<ellipse cx="228" cy="440" rx="22" ry="55" fill="#707070" opacity="0.6" filter="url(#b12)"/>
<ellipse cx="232" cy="472" rx="12" ry="6" fill="#f0f0f0" opacity="0.8" filter="url(#b4)"/>
<ellipse cx="238" cy="506" rx="14" ry="5" fill="#f0f0f0" opacity="0.8" filter="url(#b4)"/>
<ellipse cx="100" cy="512" rx="40" ry="6" fill="#c0c0c0" opacity="0.5" filter="url(#b6)"/>
</g></g></g>
<g clip-path="url(#ce)"><g clip-path="url(#fe)">
<path d="M28,462 Q80,478 128,493 Q180,498 225,478" fill="none" stroke="#f0f0f0" stroke-width="9" opacity="0.55" filter="url(#b8)" stroke-linecap="round"/>
<path d="M60,476 Q100,488 128,494 Q170,497 205,486" fill="none" stroke="#ffffff" stroke-width="3.5" opacity="0.85" filter="url(#b3)" stroke-linecap="round"/>
<path d="M35,505 Q80,512 110,515" fill="none" stroke="#c0c0c0" stroke-width="6" opacity="0.4" filter="url(#b6)" stroke-linecap="round"/>
</g></g>
<circle cx="128.7" cy="424" r="67.5" fill="none" stroke="#96ecc8" stroke-width="2.7"/>
<circle cx="128.2" cy="425.5" r="35.3" fill="none" stroke="#96ecc8" stroke-width="2.7"/>
<line x1="128.7" y1="356.5" x2="128.7" y2="390.2" stroke="#96ecc8" stroke-width="2.4"/>
<line x1="128.7" y1="460.8" x2="128.7" y2="491.5" stroke="#96ecc8" stroke-width="2.4"/>
<text x="28.2" y="289.5" font-size="21.5" font-weight="bold" text-anchor="start" fill="#96ecc8" >sham</text>
<text x="219" y="291.5" font-size="20.5" font-weight="bold" text-anchor="start" fill="#96ecc8" >e</text>
<text x="161" y="279" font-size="11" font-weight="bold" text-anchor="start" fill="#d8d850" >v</text>
<text x="39" y="356" font-size="11" font-weight="normal" text-anchor="start" fill="#d8d080" >2</text>
<circle cx="41" cy="339" r="0.9" fill="#d8d070"/>
<circle cx="69" cy="332" r="0.9" fill="#d8d070"/>
<circle cx="91" cy="310" r="0.9" fill="#d8d070"/>
<circle cx="114" cy="287" r="0.9" fill="#d8d070"/>
<circle cx="22.5" cy="375" r="0.9" fill="#d8d070"/>
<rect x="14.5" y="261.5" width="240" height="259" fill="none" stroke="#96ecc8" stroke-width="3"/>
<rect x="266.5" y="261.1" width="236.5" height="260.1" fill="#000"/>
<clipPath id="ff"><path d="M385,268.5 L-77.40000000000009,834.5 L843.4000000000001,846.5 Z"/></clipPath>
<g clip-path="url(#cf)"><g filter="url(#spf)"><g clip-path="url(#ff)">
<path d="M385,268.5 L-77.40000000000009,834.5 L843.4000000000001,846.5 Z" fill="#484848"/>
<ellipse cx="385" cy="302" rx="42" ry="40" fill="#8c8c8c" opacity="0.9" filter="url(#b14)"/>
<ellipse cx="390" cy="368" rx="45" ry="32" fill="#7c7c7c" opacity="0.8" filter="url(#b14)"/>
<ellipse cx="330" cy="425" rx="38" ry="65" fill="#141414" opacity="0.85" filter="url(#b14)"/>
<ellipse cx="420" cy="440" rx="38" ry="52" fill="#181818" opacity="0.8" filter="url(#b14)"/>
<ellipse cx="373.5" cy="412" rx="28" ry="25" fill="#000" opacity="0.95" filter="url(#b4)"/>
<ellipse cx="357" cy="410" rx="10" ry="1.8" fill="#f0f0f0" opacity="0.9" filter="url(#b2)"/>
<ellipse cx="386" cy="418" rx="7" ry="2" fill="#f0f0f0" opacity="0.9" filter="url(#b2)"/>
<ellipse cx="393" cy="407" rx="6" ry="1.6" fill="#e0e0e0" opacity="0.8" filter="url(#b2)"/>
<ellipse cx="373" cy="422" rx="12" ry="5" fill="#505050" opacity="0.6" filter="url(#b4)"/>
<ellipse cx="282" cy="425" rx="9" ry="22" fill="#ffffff" opacity="0.95" filter="url(#b6)" transform="rotate(-30 282 425)"/>
<ellipse cx="290" cy="460" rx="12" ry="25" fill="#606060" opacity="0.7" filter="url(#b10)"/>
<ellipse cx="470" cy="440" rx="25" ry="45" fill="#606060" opacity="0.6" filter="url(#b12)"/>
<ellipse cx="375" cy="518" rx="90" ry="6" fill="#707070" opacity="0.6" filter="url(#b8)"/>
</g></g></g>
<g clip-path="url(#cf)"><g clip-path="url(#ff)">
<path d="M300,498 Q375,520 450,495" fill="none" stroke="#f0f0f0" stroke-width="9" opacity="0.5" filter="url(#b8)" stroke-linecap="round"/>
<path d="M310,501 Q375,517 440,499" fill="none" stroke="#ffffff" stroke-width="3.5" opacity="0.85" filter="url(#b3)" stroke-linecap="round"/>
<path d="M276,412 L290,440" fill="none" stroke="#ffffff" stroke-width="6" opacity="0.9" filter="url(#b4)" stroke-linecap="round"/>
</g></g>
<ellipse cx="375" cy="415.5" rx="80.5" ry="82.5" fill="none" stroke="#96ecc8" stroke-width="2.7"/>
<ellipse cx="373.3" cy="412" rx="30" ry="27" fill="none" stroke="#96ecc8" stroke-width="2.7"/>
<line x1="374.6" y1="333" x2="374.6" y2="385" stroke="#96ecc8" stroke-width="2.4"/>
<line x1="374.6" y1="439" x2="374.6" y2="498" stroke="#96ecc8" stroke-width="2.4"/>
<text x="282.3" y="288.5" font-size="21.5" font-weight="bold" text-anchor="start" fill="#96ecc8" >banded</text>
<text x="468" y="290" font-size="20" font-weight="bold" text-anchor="start" fill="#96ecc8" >f</text>
<text x="401" y="276" font-size="11" font-weight="bold" text-anchor="start" fill="#d8d850" >v</text>
<text x="335" y="320" font-size="10" font-weight="normal" text-anchor="start" fill="#d8d080" >1</text>
<text x="293" y="373" font-size="11" font-weight="normal" text-anchor="start" fill="#d8d080" >2</text>
<circle cx="362" cy="290.4" r="0.9" fill="#d8d070"/>
<circle cx="351.7" cy="304" r="0.9" fill="#d8d070"/>
<circle cx="330.8" cy="331" r="0.9" fill="#d8d070"/>
<circle cx="320.4" cy="342.5" r="0.9" fill="#d8d070"/>
<circle cx="305.8" cy="344.6" r="0.9" fill="#d8d070"/>
<circle cx="310" cy="357" r="0.9" fill="#d8d070"/>
<circle cx="291" cy="383" r="0.9" fill="#d8d070"/>
<circle cx="279.8" cy="396.7" r="0.9" fill="#d8d070"/>
<rect x="266.5" y="261.1" width="236.5" height="260.1" fill="none" stroke="#96ecc8" stroke-width="3"/>
<rect x="539.55" y="260.05" width="316.20000000000005" height="257.99999999999994" fill="#000"/>
<clipPath id="fg"><path d="M686.2,262.4 L511.8,435.9 A246,246 0 0 0 861.8,434.7 Z"/></clipPath>
<g clip-path="url(#cg)"><g filter="url(#spg)"><g clip-path="url(#fg)">
<path d="M686.2,262.4 L511.8,435.9 A246,246 0 0 0 861.8,434.7 Z" fill="#404040"/>
<ellipse cx="690" cy="300" rx="55" ry="42" fill="#a0a0a0" opacity="0.95" filter="url(#b14)"/>
<ellipse cx="700" cy="335" rx="50" ry="18" fill="#a0a0a0" opacity="0.8" filter="url(#b10)"/>
<ellipse cx="592" cy="388" rx="62" ry="42" fill="#060606" opacity="0.92" filter="url(#b14)"/>
<ellipse cx="655" cy="392" rx="78" ry="28" fill="#000" opacity="0.95" filter="url(#b8)"/>
<ellipse cx="760" cy="352" rx="22" ry="16" fill="#0a0a0a" opacity="0.9" filter="url(#b8)"/>
<ellipse cx="757" cy="409" rx="28" ry="21" fill="#000" opacity="0.97" filter="url(#b6)"/>
<ellipse cx="672" cy="440" rx="62" ry="13" fill="#505050" opacity="0.7" filter="url(#b8)"/>
<ellipse cx="700" cy="487" rx="150" ry="20" fill="#a0a0a0" opacity="0.75" filter="url(#b12)"/>
<ellipse cx="820" cy="398" rx="32" ry="30" fill="#787878" opacity="0.7" filter="url(#b12)"/>
<ellipse cx="556" cy="445" rx="14" ry="28" fill="#8a8a8a" opacity="0.6" filter="url(#b10)"/>
</g></g></g>
<g clip-path="url(#cg)"><g clip-path="url(#fg)">
<path d="M644,363 Q690,372 751,329" fill="none" stroke="#ffffff" stroke-width="3" opacity="0.85" filter="url(#b3)" stroke-linecap="round"/>
<path d="M650,320 Q690,328 720,318" fill="none" stroke="#e0e0e0" stroke-width="2.5" opacity="0.6" filter="url(#b3)" stroke-linecap="round"/>
<path d="M668,302 Q690,300 712,296" fill="none" stroke="#f0f0f0" stroke-width="2.5" opacity="0.6" filter="url(#b3)" stroke-linecap="round"/>
<path d="M665,336 Q690,345 705,340" fill="none" stroke="#f0f0f0" stroke-width="2.5" opacity="0.6" filter="url(#b3)" stroke-linecap="round"/>
<path d="M732,395 Q765,372 792,364" fill="none" stroke="#ffffff" stroke-width="3" opacity="0.9" filter="url(#b3)" stroke-linecap="round"/>
<path d="M623,414 L645,419" fill="none" stroke="#ffffff" stroke-width="2.5" opacity="0.8" filter="url(#b2)" stroke-linecap="round"/>
<path d="M541,407 Q600,452 650,460 Q700,466 752,452 Q805,437 848,418" fill="none" stroke="#ffffff" stroke-width="7" opacity="0.95" filter="url(#b5)" stroke-linecap="round"/>
<path d="M545,428 Q600,472 660,478 Q720,481 780,466 Q820,454 850,442" fill="none" stroke="#d0d0d0" stroke-width="6" opacity="0.5" filter="url(#b7)" stroke-linecap="round"/>
</g></g>
<path d="M541,509 L560,510 L578,509 L585,503 L592,511 L605,509 L640,508 L652,509 L670,508 L680,503 L686,510 L700,510 L730,507 L762,509 L775,508 L783,503 L790,510 L800,509 L830,508 L845,510 L850,503 L855,510" fill="none" stroke="#a8d4c4" stroke-width="1.8" stroke-linejoin="round"/>
<text x="556" y="287.5" font-size="21.5" font-weight="bold" text-anchor="start" fill="#96ecc8" >sham</text>
<text x="821" y="287" font-size="20" font-weight="bold" text-anchor="start" fill="#96ecc8" >g</text>
<text x="750" y="363.5" font-size="17" font-weight="bold" text-anchor="start" fill="#96ecc8" >Ao</text>
<text x="634" y="402" font-size="17" font-weight="bold" text-anchor="start" fill="#96ecc8" letter-spacing="1">LV</text>
<text x="750" y="414" font-size="17" font-weight="bold" text-anchor="start" fill="#96ecc8" >LA</text>
<text x="700" y="270" font-size="10" font-weight="bold" text-anchor="start" fill="#d8d850" >v</text>
<text x="609" y="334" font-size="10" font-weight="normal" text-anchor="start" fill="#e0e0d0" >2</text>
<text x="540" y="404" font-size="10" font-weight="normal" text-anchor="start" fill="#e0e0d0" >4</text>
<circle cx="667.5" cy="277.5" r="0.9" fill="#e0e0c0"/>
<circle cx="649.6" cy="294" r="0.9" fill="#e0e0c0"/>
<circle cx="633" cy="311.9" r="0.9" fill="#e0e0c0"/>
<circle cx="612.5" cy="317.4" r="0.9" fill="#e0e0c0"/>
<circle cx="598.8" cy="344.9" r="0.9" fill="#e0e0c0"/>
<circle cx="580.9" cy="362.8" r="0.9" fill="#e0e0c0"/>
<circle cx="564.4" cy="379.3" r="0.9" fill="#e0e0c0"/>
<rect x="539.55" y="260.05" width="316.20000000000005" height="257.99999999999994" fill="none" stroke="#96ecc8" stroke-width="2.5"/>
<rect x="869.55" y="259.55" width="309.60000000000014" height="258.2" fill="#000"/>
<clipPath id="fhc"><path d="M1009.9,265.1 L847.5,430.8 A232,232 0 0 0 1174.6,428.5 Z"/></clipPath>
<g clip-path="url(#ch)"><g filter="url(#sph)"><g clip-path="url(#fhc)">
<path d="M1009.9,265.1 L847.5,430.8 A232,232 0 0 0 1174.6,428.5 Z" fill="#404040"/>
<ellipse cx="1012" cy="300" rx="55" ry="45" fill="#a0a0a0" opacity="0.95" filter="url(#b14)"/>
<ellipse cx="1020" cy="335" rx="50" ry="16" fill="#909090" opacity="0.7" filter="url(#b10)"/>
<ellipse cx="945" cy="385" rx="85" ry="45" fill="#060606" opacity="0.92" filter="url(#b14)"/>
<ellipse cx="1030" cy="385" rx="45" ry="18" fill="#0c0c0c" opacity="0.85" filter="url(#b10)"/>
<ellipse cx="1071" cy="424" rx="50" ry="27" fill="#000" opacity="0.97" filter="url(#b8)"/>
<ellipse cx="1010" cy="425" rx="25" ry="22" fill="#000" opacity="0.85" filter="url(#b8)"/>
<ellipse cx="950" cy="425" rx="30" ry="14" fill="#303030" opacity="0.7" filter="url(#b8)"/>
<ellipse cx="1095" cy="382" rx="35" ry="10" fill="#808080" opacity="0.6" filter="url(#b8)"/>
<ellipse cx="908" cy="458" rx="48" ry="40" fill="#b8b8b8" opacity="0.85" filter="url(#b12)"/>
<ellipse cx="1030" cy="482" rx="120" ry="16" fill="#a0a0a0" opacity="0.75" filter="url(#b10)"/>
<ellipse cx="1140" cy="430" rx="25" ry="25" fill="#707070" opacity="0.6" filter="url(#b10)"/>
</g></g></g>
<g clip-path="url(#ch)"><g clip-path="url(#fhc)">
<path d="M988,353 Q1015,358 1041,357" fill="none" stroke="#d0d0d0" stroke-width="2.5" opacity="0.6" filter="url(#b3)" stroke-linecap="round"/>
<path d="M1041,357 Q1065,352 1084,344" fill="none" stroke="#ffffff" stroke-width="5" opacity="0.95" filter="url(#b3)" stroke-linecap="round"/>
<path d="M1022,404 Q1040,398 1055,395 Q1090,387 1116,383" fill="none" stroke="#ffffff" stroke-width="3" opacity="0.85" filter="url(#b3)" stroke-linecap="round"/>
<path d="M996,413 L1012,413" fill="none" stroke="#ffffff" stroke-width="2.5" opacity="0.8" filter="url(#b2)" stroke-linecap="round"/>
<path d="M868,404 Q920,425 961,449 Q990,461 1028,463 Q1080,458 1135,436 Q1160,428 1175,424" fill="none" stroke="#ffffff" stroke-width="7" opacity="0.95" filter="url(#b5)" stroke-linecap="round"/>
<path d="M875,425 Q930,450 965,468 Q1000,478 1040,478 Q1100,472 1170,440" fill="none" stroke="#c0c0c0" stroke-width="4" opacity="0.4" filter="url(#b6)" stroke-linecap="round"/>
</g></g>
<path d="M871,508 L895,508 L901,506 L905,495 L909,507 L915,509 L940,506 L965,509 L973,507 L977,495 L981,507 L990,509 L1015,506 L1040,509 L1048,507 L1052,495 L1056,507 L1065,509 L1090,506 L1118,509 L1122,507 L1126,495 L1130,507 L1140,509 L1160,510 L1168,514 L1178,514" fill="none" stroke="#a8d4c4" stroke-width="1.8" stroke-linejoin="round"/>
<text x="884.3" y="286.5" font-size="21.7" font-weight="bold" text-anchor="start" fill="#96ecc8" >banded</text>
<text x="1143.5" y="287" font-size="20.5" font-weight="bold" text-anchor="start" fill="#96ecc8" >h</text>
<text x="950" y="371" font-size="17" font-weight="bold" text-anchor="start" fill="#96ecc8" letter-spacing="1">LV</text>
<text x="1083" y="370" font-size="17" font-weight="bold" text-anchor="start" fill="#96ecc8" >Ao</text>
<text x="1062" y="433.5" font-size="17" font-weight="bold" text-anchor="start" fill="#96ecc8" >LA</text>
<text x="1025" y="273" font-size="10" font-weight="bold" text-anchor="start" fill="#d8d850" >v</text>
<text x="937" y="334" font-size="10" font-weight="normal" text-anchor="start" fill="#e0e0d0" >2</text>
<text x="871" y="398" font-size="10" font-weight="normal" text-anchor="start" fill="#e0e0d0" >4</text>
<circle cx="993" cy="282" r="0.9" fill="#e0e0c0"/>
<circle cx="978" cy="297" r="0.9" fill="#e0e0c0"/>
<circle cx="962" cy="313" r="0.9" fill="#e0e0c0"/>
<circle cx="940" cy="322" r="0.9" fill="#e0e0c0"/>
<circle cx="927" cy="344" r="0.9" fill="#e0e0c0"/>
<circle cx="911" cy="362" r="0.9" fill="#e0e0c0"/>
<circle cx="894" cy="380" r="0.9" fill="#e0e0c0"/>
<rect x="869.55" y="259.55" width="309.60000000000014" height="258.2" fill="none" stroke="#96ecc8" stroke-width="2.5"/>
<defs>
<filter id="dl" filterUnits="userSpaceOnUse" x="88" y="918" width="324" height="283" color-interpolation-filters="sRGB"><feTurbulence type="fractalNoise" baseFrequency="0.25 0.035" numOctaves="2" seed="21" result="t"/><feColorMatrix in="t" type="matrix" values="0.33 0.33 0.33 0 0 0.33 0.33 0.33 0 0 0.33 0.33 0.33 0 0 0 0 0 0 1" result="g"/><feComponentTransfer in="g" result="c"><feFuncR type="linear" slope="3" intercept="-1"/><feFuncG type="linear" slope="3" intercept="-1"/><feFuncB type="linear" slope="3" intercept="-1"/></feComponentTransfer><feComposite in="SourceGraphic" in2="c" operator="arithmetic" k1="1.6" k2="0.25" k3="0" k4="0"/></filter>
<filter id="dm" filterUnits="userSpaceOnUse" x="466" y="917" width="292" height="288" color-interpolation-filters="sRGB"><feTurbulence type="fractalNoise" baseFrequency="0.25 0.035" numOctaves="2" seed="22" result="t"/><feColorMatrix in="t" type="matrix" values="0.33 0.33 0.33 0 0 0.33 0.33 0.33 0 0 0.33 0.33 0.33 0 0 0 0 0 0 1" result="g"/><feComponentTransfer in="g" result="c"><feFuncR type="linear" slope="3" intercept="-1"/><feFuncG type="linear" slope="3" intercept="-1"/><feFuncB type="linear" slope="3" intercept="-1"/></feComponentTransfer><feComposite in="SourceGraphic" in2="c" operator="arithmetic" k1="1.6" k2="0.25" k3="0" k4="0"/></filter>
<filter id="dn" filterUnits="userSpaceOnUse" x="810" y="920" width="298" height="286" color-interpolation-filters="sRGB"><feTurbulence type="fractalNoise" baseFrequency="0.25 0.035" numOctaves="2" seed="23" result="t"/><feColorMatrix in="t" type="matrix" values="0.33 0.33 0.33 0 0 0.33 0.33 0.33 0 0 0.33 0.33 0.33 0 0 0 0 0 0 1" result="g"/><feComponentTransfer in="g" result="c"><feFuncR type="linear" slope="3" intercept="-1"/><feFuncG type="linear" slope="3" intercept="-1"/><feFuncB type="linear" slope="3" intercept="-1"/></feComponentTransfer><feComposite in="SourceGraphic" in2="c" operator="arithmetic" k1="1.6" k2="0.25" k3="0" k4="0"/></filter>
<linearGradient id="gg" x1="0" y1="0" x2="1" y2="0"><stop offset="0" stop-color="#002a08"/><stop offset="0.45" stop-color="#10e040"/><stop offset="1" stop-color="#40ffa0"/></linearGradient>
</defs>
<rect x="88.3" y="918.3" width="323.4" height="282.4000000000001" fill="#000"/>
<clipPath id="cdl"><rect x="88.3" y="918.3" width="323.4" height="282.4000000000001"/></clipPath>
<g clip-path="url(#cdl)"><g filter="url(#dl)">
<path d="M118,1125.7 L128,1000 L136.7,930 L150,1010 L160,1075 L172,1040 L183.3,1012 L192,1080 L200,1125.7 Z" fill="#3d9be6" opacity="0.06" filter="url(#b6)"/>
<path d="M116,1122.7 L124,1040 L132,960 L136.7,927 L142,960 L150,1020 L160,1075 L170,1040 L183.3,1012 L190,1060 L198,1122.7" fill="none" stroke="#3d9be6" stroke-width="7" opacity="0.9" filter="url(#b5)" stroke-linejoin="round"/>
<path d="M116,1122.7 L124,1040 L132,960 L136.7,927 L142,960 L150,1020 L160,1075 L170,1040 L183.3,1012 L190,1060 L198,1122.7" fill="none" stroke="#9ad6ff" stroke-width="2.5" opacity="0.85" filter="url(#b2)" stroke-linejoin="round"/>
<path d="M295,1125.7 L305,1000 L317.3,935 L330,1010 L345,1075 L352,1040 L360,1012 L368,1060 L378,1125.7 Z" fill="#3d9be6" opacity="0.06" filter="url(#b6)"/>
<path d="M294,1122.7 L305,1030 L313,960 L317.3,935 L323,960 L332,1030 L343,1075 L352,1040 L360,1012 L366,1050 L378,1122.7" fill="none" stroke="#3d9be6" stroke-width="7" opacity="0.9" filter="url(#b5)" stroke-linejoin="round"/>
<path d="M294,1122.7 L305,1030 L313,960 L317.3,935 L323,960 L332,1030 L343,1075 L352,1040 L360,1012 L366,1050 L378,1122.7" fill="none" stroke="#9ad6ff" stroke-width="2.5" opacity="0.85" filter="url(#b2)" stroke-linejoin="round"/>
<ellipse cx="123" cy="1105.35" rx="4" ry="20.350000000000023" fill="#9ad6ff" opacity="0.9" filter="url(#b4)"/>
<ellipse cx="169" cy="1105.35" rx="4" ry="20.350000000000023" fill="#9ad6ff" opacity="0.8" filter="url(#b4)"/>
<ellipse cx="301.5" cy="1105.35" rx="4" ry="20.350000000000023" fill="#9ad6ff" opacity="0.9" filter="url(#b4)"/>
<ellipse cx="347.5" cy="1105.35" rx="4" ry="20.350000000000023" fill="#9ad6ff" opacity="0.8" filter="url(#b4)"/>
<ellipse cx="100" cy="1110" rx="7" ry="12" fill="#3d9be6" opacity="0.7" filter="url(#b5)"/>
<ellipse cx="200" cy="1112" rx="7" ry="12" fill="#3d9be6" opacity="0.7" filter="url(#b5)"/>
<ellipse cx="215" cy="1105" rx="7" ry="12" fill="#3d9be6" opacity="0.7" filter="url(#b5)"/>
<ellipse cx="232" cy="1100" rx="7" ry="12" fill="#3d9be6" opacity="0.7" filter="url(#b5)"/>
<ellipse cx="248" cy="1108" rx="7" ry="12" fill="#3d9be6" opacity="0.7" filter="url(#b5)"/>
<ellipse cx="262" cy="1112" rx="7" ry="12" fill="#3d9be6" opacity="0.7" filter="url(#b5)"/>
<ellipse cx="278" cy="1115" rx="7" ry="12" fill="#3d9be6" opacity="0.7" filter="url(#b5)"/>
<ellipse cx="390" cy="1112" rx="7" ry="12" fill="#3d9be6" opacity="0.7" filter="url(#b5)"/>
<ellipse cx="405" cy="1115" rx="7" ry="12" fill="#3d9be6" opacity="0.7" filter="url(#b5)"/>
<ellipse cx="150" cy="1112" rx="7" ry="12" fill="#3d9be6" opacity="0.7" filter="url(#b5)"/>
<ellipse cx="139" cy="1137" rx="11" ry="8" fill="#3d9be6" opacity="0.85" filter="url(#b6)"/>
<ellipse cx="162" cy="1142" rx="7" ry="14" fill="#9ad6ff" opacity="0.7" filter="url(#b6)"/>
<ellipse cx="192" cy="1142" rx="9" ry="14" fill="#3d9be6" opacity="0.8" filter="url(#b6)"/>
<ellipse cx="240" cy="1148" rx="30" ry="20" fill="#3d9be6" opacity="0.7" filter="url(#b6)"/>
<ellipse cx="321" cy="1138" rx="9" ry="9" fill="#3d9be6" opacity="0.85" filter="url(#b6)"/>
<ellipse cx="339" cy="1140" rx="8" ry="12" fill="#9ad6ff" opacity="0.7" filter="url(#b6)"/>
<ellipse cx="371" cy="1143" rx="13" ry="14" fill="#3d9be6" opacity="0.85" filter="url(#b6)"/>
<ellipse cx="398" cy="1150" rx="12" ry="18" fill="#3d9be6" opacity="0.75" filter="url(#b6)"/>
<ellipse cx="110" cy="1135" rx="8" ry="6" fill="#3d9be6" opacity="0.6" filter="url(#b6)"/>
<path d="M114.4,1127.7 L120.4,1164 L126.4,1127.7 Z" fill="#3d9be6" opacity="0.85" filter="url(#b4)"/>
<path d="M190,1127.7 L196,1193 L202,1127.7 Z" fill="#3d9be6" opacity="0.85" filter="url(#b4)"/>
<path d="M222.5,1127.7 L228.5,1199 L234.5,1127.7 Z" fill="#3d9be6" opacity="0.85" filter="url(#b4)"/>
<path d="M244,1127.7 L250,1185 L256,1127.7 Z" fill="#3d9be6" opacity="0.85" filter="url(#b4)"/>
<path d="M298,1127.7 L304,1166 L310,1127.7 Z" fill="#3d9be6" opacity="0.85" filter="url(#b4)"/>
<path d="M399,1127.7 L405,1198 L411,1127.7 Z" fill="#3d9be6" opacity="0.85" filter="url(#b4)"/>
</g></g>
<line x1="88.3" y1="1125.7" x2="411.7" y2="1125.7" stroke="#f4f0ec" stroke-width="2.6"/>
<rect x="362.7" y="921.0" width="48.0" height="41.299999999999955" fill="#000" stroke="#96ecc8" stroke-width="2"/>
<text x="386.7" y="948.15" font-size="19" font-weight="bold" text-anchor="middle" fill="#c8f4e4" >l</text>
<text x="123.5" y="941.5" font-size="17" font-weight="bold" text-anchor="middle" fill="#96ecc8" >E</text>
<text x="182.5" y="1003" font-size="17" font-weight="bold" text-anchor="middle" fill="#96ecc8" >A</text>
<text x="249.5" y="943" font-size="18.7" font-weight="bold" text-anchor="middle" fill="#96ecc8" >sham</text>
<rect x="466.7" y="917.3" width="290.59999999999997" height="286.70000000000005" fill="#000"/>
<clipPath id="cdm"><rect x="466.7" y="917.3" width="290.59999999999997" height="286.70000000000005"/></clipPath>
<g clip-path="url(#cdm)"><g filter="url(#dm)">
<path d="M498,1125.7 L512,1010 L518,997 L532,1045 L541.5,952 L550,1060 L555,1125.7 Z" fill="#3d9be6" opacity="0.06" filter="url(#b6)"/>
<path d="M497,1122.7 L506,1050 L512,1010 L518,997 L526,1030 L532,1045 L538,990 L541.5,952 L545,990 L549,1060 L553,1122.7" fill="none" stroke="#3d9be6" stroke-width="7" opacity="0.9" filter="url(#b5)" stroke-linejoin="round"/>
<path d="M497,1122.7 L506,1050 L512,1010 L518,997 L526,1030 L532,1045 L538,990 L541.5,952 L545,990 L549,1060 L553,1122.7" fill="none" stroke="#9ad6ff" stroke-width="2.5" opacity="0.85" filter="url(#b2)" stroke-linejoin="round"/>
<path d="M552,1125.7 L560,1098 L575,1125.7 Z" fill="#3d9be6" opacity="0.30" filter="url(#b6)"/>
<path d="M636,1125.7 L650,1000 L655,995 L670,1045 L679,962 L688,1060 L692,1125.7 Z" fill="#3d9be6" opacity="0.06" filter="url(#b6)"/>
<path d="M635,1122.7 L645,1040 L650,1003 L655,995 L663,1030 L670,1045 L676,990 L679,962 L683,995 L687,1060 L691,1122.7" fill="none" stroke="#3d9be6" stroke-width="7" opacity="0.9" filter="url(#b5)" stroke-linejoin="round"/>
<path d="M635,1122.7 L645,1040 L650,1003 L655,995 L663,1030 L670,1045 L676,990 L679,962 L683,995 L687,1060 L691,1122.7" fill="none" stroke="#9ad6ff" stroke-width="2.5" opacity="0.85" filter="url(#b2)" stroke-linejoin="round"/>
<path d="M692,1125.7 L702,1083 L716,1125.7 Z" fill="#3d9be6" opacity="0.30" filter="url(#b6)"/>
<ellipse cx="485" cy="1135" rx="8" ry="6" fill="#3d9be6" opacity="0.6" filter="url(#b6)"/>
<ellipse cx="520" cy="1135" rx="10" ry="7" fill="#3d9be6" opacity="0.7" filter="url(#b6)"/>
<ellipse cx="560" cy="1138" rx="14" ry="8" fill="#3d9be6" opacity="0.7" filter="url(#b6)"/>
<ellipse cx="600" cy="1135" rx="8" ry="6" fill="#3d9be6" opacity="0.5" filter="url(#b6)"/>
<ellipse cx="640" cy="1136" rx="10" ry="7" fill="#3d9be6" opacity="0.7" filter="url(#b6)"/>
<ellipse cx="700" cy="1136" rx="12" ry="8" fill="#3d9be6" opacity="0.7" filter="url(#b6)"/>
<ellipse cx="735" cy="1140" rx="12" ry="10" fill="#3d9be6" opacity="0.7" filter="url(#b6)"/>
<ellipse cx="480" cy="1115" rx="5" ry="9" fill="#3d9be6" opacity="0.6" filter="url(#b5)"/>
<ellipse cx="530" cy="1112" rx="8" ry="12" fill="#3d9be6" opacity="0.6" filter="url(#b5)"/>
<ellipse cx="565" cy="1105" rx="8" ry="14" fill="#3d9be6" opacity="0.7" filter="url(#b5)"/>
<ellipse cx="585" cy="1110" rx="6" ry="12" fill="#3d9be6" opacity="0.5" filter="url(#b5)"/>
<ellipse cx="660" cy="1110" rx="8" ry="12" fill="#3d9be6" opacity="0.6" filter="url(#b5)"/>
<ellipse cx="720" cy="1110" rx="8" ry="12" fill="#3d9be6" opacity="0.6" filter="url(#b5)"/>
<ellipse cx="500" cy="1117.7" rx="5" ry="9" fill="#e0f6ff" opacity="0.8" filter="url(#b4)"/>
<ellipse cx="640" cy="1117.7" rx="7" ry="9" fill="#e0f6ff" opacity="0.8" filter="url(#b4)"/>
<path d="M572,1128.7 L582,1185 L592,1128.7" fill="none" stroke="#3d9be6" stroke-width="7" opacity="0.9" filter="url(#b5)" stroke-linejoin="round"/>
<path d="M572,1128.7 L582,1185 L592,1128.7" fill="none" stroke="#9ad6ff" stroke-width="2.5" opacity="0.85" filter="url(#b2)" stroke-linejoin="round"/>
<path d="M590,1128.7 L600,1150 L610,1128.7" fill="none" stroke="#3d9be6" stroke-width="7" opacity="0.9" filter="url(#b5)" stroke-linejoin="round"/>
<path d="M590,1128.7 L600,1150 L610,1128.7" fill="none" stroke="#9ad6ff" stroke-width="2.5" opacity="0.85" filter="url(#b2)" stroke-linejoin="round"/>
<path d="M715,1128.7 L725,1192 L735,1128.7" fill="none" stroke="#3d9be6" stroke-width="7" opacity="0.9" filter="url(#b5)" stroke-linejoin="round"/>
<path d="M715,1128.7 L725,1192 L735,1128.7" fill="none" stroke="#9ad6ff" stroke-width="2.5" opacity="0.85" filter="url(#b2)" stroke-linejoin="round"/>
<path d="M730,1128.7 L740,1170 L750,1128.7" fill="none" stroke="#3d9be6" stroke-width="7" opacity="0.9" filter="url(#b5)" stroke-linejoin="round"/>
<path d="M730,1128.7 L740,1170 L750,1128.7" fill="none" stroke="#9ad6ff" stroke-width="2.5" opacity="0.85" filter="url(#b2)" stroke-linejoin="round"/>
</g></g>
<line x1="466.7" y1="1125.7" x2="757.3" y2="1125.7" stroke="#f4f0ec" stroke-width="2.6"/>
<rect x="707.7" y="920.0" width="47.299999999999955" height="41.700000000000045" fill="#000" stroke="#96ecc8" stroke-width="2"/>
<text x="731.35" y="947.35" font-size="19" font-weight="bold" text-anchor="middle" fill="#c8f4e4" >m</text>
<text x="544" y="942" font-size="17" font-weight="bold" text-anchor="middle" fill="#96ecc8" >A</text>
<text x="518.3" y="980" font-size="17" font-weight="bold" text-anchor="middle" fill="#96ecc8" >E</text>
<text x="612.5" y="944.5" font-size="18.7" font-weight="bold" text-anchor="middle" fill="#96ecc8" >banded</text>
<text x="612" y="967.5" font-size="18.7" font-weight="bold" text-anchor="middle" fill="#96ecc8" >2 mo</text>
<rect x="810" y="920" width="297.29999999999995" height="285" fill="#000"/>
<clipPath id="cdn"><rect x="810" y="920" width="297.29999999999995" height="285"/></clipPath>
<g clip-path="url(#cdn)"><g filter="url(#dn)">
<path d="M832,1126.7 L842,1000 L847.7,958 L853,1000 L860,1126.7 Z" fill="#3d9be6" opacity="0.06" filter="url(#b6)"/>
<path d="M831,1123.7 L840,1030 L845,975 L847.7,958 L851,985 L856,1050 L860,1123.7" fill="none" stroke="#3d9be6" stroke-width="5" opacity="0.9" filter="url(#b5)" stroke-linejoin="round"/>
<path d="M831,1123.7 L840,1030 L845,975 L847.7,958 L851,985 L856,1050 L860,1123.7" fill="none" stroke="#9ad6ff" stroke-width="2" opacity="0.85" filter="url(#b2)" stroke-linejoin="round"/>
<path d="M1020,1126.7 L1032,1000 L1037.7,957 L1043,1000 L1052,1126.7 Z" fill="#3d9be6" opacity="0.06" filter="url(#b6)"/>
<path d="M1019,1123.7 L1030,1030 L1035,975 L1037.7,957 L1041,985 L1047,1050 L1052,1123.7" fill="none" stroke="#3d9be6" stroke-width="5" opacity="0.9" filter="url(#b5)" stroke-linejoin="round"/>
<path d="M1019,1123.7 L1030,1030 L1035,975 L1037.7,957 L1041,985 L1047,1050 L1052,1123.7" fill="none" stroke="#9ad6ff" stroke-width="2" opacity="0.85" filter="url(#b2)" stroke-linejoin="round"/>
<path d="M860,1126.7 L866,1100 L875,1126.7 Z" fill="#3d9be6" opacity="0.30" filter="url(#b6)"/>
<path d="M860,1124.7 L866,1102 L875,1124.7" fill="none" stroke="#3d9be6" stroke-width="5" opacity="0.9" filter="url(#b5)" stroke-linejoin="round"/>
<path d="M860,1124.7 L866,1102 L875,1124.7" fill="none" stroke="#9ad6ff" stroke-width="1.5" opacity="0.85" filter="url(#b2)" stroke-linejoin="round"/>
<path d="M885,1126.7 L897,1093 L910,1126.7 Z" fill="#3d9be6" opacity="0.30" filter="url(#b6)"/>
<path d="M885,1124.7 L897,1095 L910,1124.7" fill="none" stroke="#3d9be6" stroke-width="5" opacity="0.9" filter="url(#b5)" stroke-linejoin="round"/>
<path d="M885,1124.7 L897,1095 L910,1124.7" fill="none" stroke="#9ad6ff" stroke-width="1.5" opacity="0.85" filter="url(#b2)" stroke-linejoin="round"/>
<path d="M922,1126.7 L926,1080 L932,1126.7 Z" fill="#3d9be6" opacity="0.30" filter="url(#b6)"/>
<path d="M922,1124.7 L926,1082 L932,1124.7" fill="none" stroke="#3d9be6" stroke-width="5" opacity="0.9" filter="url(#b5)" stroke-linejoin="round"/>
<path d="M922,1124.7 L926,1082 L932,1124.7" fill="none" stroke="#9ad6ff" stroke-width="1.5" opacity="0.85" filter="url(#b2)" stroke-linejoin="round"/>
<path d="M935,1126.7 L960,1108 L985,1126.7 Z" fill="#3d9be6" opacity="0.30" filter="url(#b6)"/>
<path d="M935,1124.7 L960,1110 L985,1124.7" fill="none" stroke="#3d9be6" stroke-width="5" opacity="0.9" filter="url(#b5)" stroke-linejoin="round"/>
<path d="M935,1124.7 L960,1110 L985,1124.7" fill="none" stroke="#9ad6ff" stroke-width="1.5" opacity="0.85" filter="url(#b2)" stroke-linejoin="round"/>
<path d="M1055,1126.7 L1060,1105 L1068,1126.7 Z" fill="#3d9be6" opacity="0.30" filter="url(#b6)"/>
<path d="M1055,1124.7 L1060,1107 L1068,1124.7" fill="none" stroke="#3d9be6" stroke-width="5" opacity="0.9" filter="url(#b5)" stroke-linejoin="round"/>
<path d="M1055,1124.7 L1060,1107 L1068,1124.7" fill="none" stroke="#9ad6ff" stroke-width="1.5" opacity="0.85" filter="url(#b2)" stroke-linejoin="round"/>
<path d="M1083,1126.7 L1090,1098 L1100,1126.7 Z" fill="#3d9be6" opacity="0.30" filter="url(#b6)"/>
<path d="M1083,1124.7 L1090,1100 L1100,1124.7" fill="none" stroke="#3d9be6" stroke-width="5" opacity="0.9" filter="url(#b5)" stroke-linejoin="round"/>
<path d="M1083,1124.7 L1090,1100 L1100,1124.7" fill="none" stroke="#9ad6ff" stroke-width="1.5" opacity="0.85" filter="url(#b2)" stroke-linejoin="round"/>
<rect x="815" y="1114.7" width="290" height="12" fill="#3d9be6" opacity="0.3" filter="url(#b6)"/>
<ellipse cx="850" cy="1137" rx="16" ry="8" fill="#3d9be6" opacity="0.95" filter="url(#b6)"/>
<ellipse cx="855" cy="1136" rx="8" ry="5" fill="#9ad6ff" opacity="0.6" filter="url(#b6)"/>
<ellipse cx="895" cy="1136" rx="14" ry="7" fill="#3d9be6" opacity="0.8" filter="url(#b6)"/>
<ellipse cx="935" cy="1138" rx="12" ry="7" fill="#3d9be6" opacity="0.8" filter="url(#b6)"/>
<ellipse cx="970" cy="1137" rx="18" ry="8" fill="#3d9be6" opacity="0.95" filter="url(#b6)"/>
<ellipse cx="985" cy="1137" rx="8" ry="5" fill="#9ad6ff" opacity="0.6" filter="url(#b6)"/>
<ellipse cx="1000" cy="1136" rx="10" ry="7" fill="#3d9be6" opacity="0.8" filter="url(#b6)"/>
<ellipse cx="1050" cy="1138" rx="14" ry="9" fill="#3d9be6" opacity="0.8" filter="url(#b6)"/>
<ellipse cx="1080" cy="1138" rx="12" ry="8" fill="#3d9be6" opacity="0.7" filter="url(#b6)"/>
<ellipse cx="1100" cy="1140" rx="6" ry="8" fill="#3d9be6" opacity="0.8" filter="url(#b6)"/>
<path d="M828,1129.7 L831,1210 L834,1129.7" fill="none" stroke="#3d9be6" stroke-width="4" opacity="0.9" filter="url(#b5)" stroke-linejoin="round"/>
<path d="M828,1129.7 L831,1210 L834,1129.7" fill="none" stroke="#9ad6ff" stroke-width="1.5" opacity="0.85" filter="url(#b2)" stroke-linejoin="round"/>
<path d="M1019,1129.7 L1022,1210 L1025,1129.7" fill="none" stroke="#3d9be6" stroke-width="4" opacity="0.9" filter="url(#b5)" stroke-linejoin="round"/>
<path d="M1019,1129.7 L1022,1210 L1025,1129.7" fill="none" stroke="#9ad6ff" stroke-width="1.5" opacity="0.85" filter="url(#b2)" stroke-linejoin="round"/>
<path d="M919,1129.7 L922,1182 L925,1129.7" fill="none" stroke="#3d9be6" stroke-width="4" opacity="0.9" filter="url(#b5)" stroke-linejoin="round"/>
<path d="M919,1129.7 L922,1182 L925,1129.7" fill="none" stroke="#9ad6ff" stroke-width="1.5" opacity="0.85" filter="url(#b2)" stroke-linejoin="round"/>
<path d="M1047,1129.7 L1050,1170 L1053,1129.7" fill="none" stroke="#3d9be6" stroke-width="4" opacity="0.9" filter="url(#b5)" stroke-linejoin="round"/>
<path d="M1047,1129.7 L1050,1170 L1053,1129.7" fill="none" stroke="#9ad6ff" stroke-width="1.5" opacity="0.85" filter="url(#b2)" stroke-linejoin="round"/>
<path d="M857,1129.7 L860,1160 L863,1129.7" fill="none" stroke="#3d9be6" stroke-width="4" opacity="0.9" filter="url(#b5)" stroke-linejoin="round"/>
<path d="M857,1129.7 L860,1160 L863,1129.7" fill="none" stroke="#9ad6ff" stroke-width="1.5" opacity="0.85" filter="url(#b2)" stroke-linejoin="round"/>
</g></g>
<line x1="810" y1="1126.7" x2="1107.3" y2="1126.7" stroke="#f4f0ec" stroke-width="2.6"/>
<rect x="1058.7" y="921.0" width="47.0" height="41.299999999999955" fill="#000" stroke="#96ecc8" stroke-width="2"/>
<text x="1082.2" y="948.15" font-size="19" font-weight="bold" text-anchor="middle" fill="#c8f4e4" >n</text>
<text x="841.5" y="947" font-size="17" font-weight="bold" text-anchor="middle" fill="#96ecc8" >E</text>
<text x="900" y="1082" font-size="17" font-weight="bold" text-anchor="middle" fill="#96ecc8" >A</text>
<text x="959.5" y="944.5" font-size="18.7" font-weight="bold" text-anchor="middle" fill="#96ecc8" >banded</text>
<text x="958.5" y="967.5" font-size="18.7" font-weight="bold" text-anchor="middle" fill="#96ecc8" >4 mo</text>
<rect x="87.3" y="1221.7" width="325.4" height="282.29999999999995" fill="#000"/>
<clipPath id="rlp"><rect x="87.3" y="1221.7" width="242.7" height="282.29999999999995"/></clipPath>
<g clip-path="url(#rlp)">
<rect x="88" y="1321" width="242" height="30" fill="#d01010" opacity="0.13" filter="url(#b12)"/>
<path d="M89,1308 L89,1334" fill="none" stroke="#d01010" stroke-width="19.2" opacity="0.36" filter="url(#b12)" stroke-linejoin="round" stroke-linecap="round"/>
<path d="M89,1308 L89,1334" fill="none" stroke="#ff2e2e" stroke-width="10.2" opacity="0.9" filter="url(#b7)" stroke-linejoin="round" stroke-linecap="round"/>
<path d="M89,1308 L89,1334" fill="none" stroke="#ffd8d8" stroke-width="6.6" opacity="0.55" filter="url(#b5)" stroke-linejoin="round" stroke-linecap="round"/>
<path d="M89,1345 L96,1400 L102,1455 L105,1500" fill="none" stroke="#d01010" stroke-width="16.0" opacity="0.36" filter="url(#b12)" stroke-linejoin="round" stroke-linecap="round"/>
<path d="M89,1345 L96,1400 L102,1455 L105,1500" fill="none" stroke="#ff2e2e" stroke-width="8.5" opacity="0.9" filter="url(#b7)" stroke-linejoin="round" stroke-linecap="round"/>
<path d="M89,1345 L96,1400 L102,1455 L105,1500" fill="none" stroke="#ffd8d8" stroke-width="4.4" opacity="0.55" filter="url(#b5)" stroke-linejoin="round" stroke-linecap="round"/>
<path d="M106,1455 L113,1400 L120,1352" fill="none" stroke="#d01010" stroke-width="12.8" opacity="0.36" filter="url(#b12)" stroke-linejoin="round" stroke-linecap="round"/>
<path d="M106,1455 L113,1400 L120,1352" fill="none" stroke="#ff2e2e" stroke-width="6.8" opacity="0.9" filter="url(#b7)" stroke-linejoin="round" stroke-linecap="round"/>
<path d="M106,1455 L113,1400 L120,1352" fill="none" stroke="#ffd8d8" stroke-width="2.2" opacity="0.55" filter="url(#b5)" stroke-linejoin="round" stroke-linecap="round"/>
<path d="M120,1348 L150,1348" fill="none" stroke="#d01010" stroke-width="22.4" opacity="0.36" filter="url(#b12)" stroke-linejoin="round" stroke-linecap="round"/>
<path d="M120,1348 L150,1348" fill="none" stroke="#ff2e2e" stroke-width="11.9" opacity="0.9" filter="url(#b7)" stroke-linejoin="round" stroke-linecap="round"/>
<path d="M120,1348 L150,1348" fill="none" stroke="#ffd8d8" stroke-width="6.6" opacity="0.7" filter="url(#b5)" stroke-linejoin="round" stroke-linecap="round"/>
<path d="M150,1350 L156,1392 L161,1432" fill="none" stroke="#d01010" stroke-width="12.8" opacity="0.36" filter="url(#b12)" stroke-linejoin="round" stroke-linecap="round"/>
<path d="M150,1350 L156,1392 L161,1432" fill="none" stroke="#ff2e2e" stroke-width="6.8" opacity="0.9" filter="url(#b7)" stroke-linejoin="round" stroke-linecap="round"/>
<path d="M161,1430 L166,1392 L170,1352" fill="none" stroke="#d01010" stroke-width="9.6" opacity="0.28" filter="url(#b12)" stroke-linejoin="round" stroke-linecap="round"/>
<path d="M161,1430 L166,1392 L170,1352" fill="none" stroke="#ff2e2e" stroke-width="5.1" opacity="0.7" filter="url(#b7)" stroke-linejoin="round" stroke-linecap="round"/>
<path d="M168,1270 L168,1340" fill="none" stroke="#d01010" stroke-width="8.0" opacity="0.24" filter="url(#b12)" stroke-linejoin="round" stroke-linecap="round"/>
<path d="M168,1270 L168,1340" fill="none" stroke="#ff2e2e" stroke-width="4.2" opacity="0.6" filter="url(#b7)" stroke-linejoin="round" stroke-linecap="round"/>
<path d="M174,1345 L174,1375" fill="none" stroke="#d01010" stroke-width="9.6" opacity="0.28" filter="url(#b12)" stroke-linejoin="round" stroke-linecap="round"/>
<path d="M174,1345 L174,1375" fill="none" stroke="#ff2e2e" stroke-width="5.1" opacity="0.7" filter="url(#b7)" stroke-linejoin="round" stroke-linecap="round"/>
<path d="M187,1338 L187,1240" fill="none" stroke="#d01010" stroke-width="11.2" opacity="0.32" filter="url(#b12)" stroke-linejoin="round" stroke-linecap="round"/>
<path d="M187,1338 L187,1240" fill="none" stroke="#ff2e2e" stroke-width="6.0" opacity="0.8" filter="url(#b7)" stroke-linejoin="round" stroke-linecap="round"/>
<path d="M188,1234 L200,1266 L213,1298 L226,1330" fill="none" stroke="#d01010" stroke-width="28.8" opacity="0.36" filter="url(#b12)" stroke-linejoin="round" stroke-linecap="round"/>
<path d="M188,1234 L200,1266 L213,1298 L226,1330" fill="none" stroke="#ff2e2e" stroke-width="15.3" opacity="0.9" filter="url(#b7)" stroke-linejoin="round" stroke-linecap="round"/>
<path d="M188,1234 L200,1266 L213,1298 L226,1330" fill="none" stroke="#ffd8d8" stroke-width="7.7" opacity="0.55" filter="url(#b5)" stroke-linejoin="round" stroke-linecap="round"/>
<path d="M238,1310 L238,1332" fill="none" stroke="#d01010" stroke-width="16.0" opacity="0.36" filter="url(#b12)" stroke-linejoin="round" stroke-linecap="round"/>
<path d="M238,1310 L238,1332" fill="none" stroke="#ff2e2e" stroke-width="8.5" opacity="0.9" filter="url(#b7)" stroke-linejoin="round" stroke-linecap="round"/>
<path d="M238,1310 L238,1332" fill="none" stroke="#ffd8d8" stroke-width="6.6" opacity="0.55" filter="url(#b5)" stroke-linejoin="round" stroke-linecap="round"/>
<path d="M229,1340 L233,1375 L237,1410" fill="none" stroke="#d01010" stroke-width="9.6" opacity="0.24" filter="url(#b12)" stroke-linejoin="round" stroke-linecap="round"/>
<path d="M229,1340 L233,1375 L237,1410" fill="none" stroke="#ff2e2e" stroke-width="5.1" opacity="0.6" filter="url(#b7)" stroke-linejoin="round" stroke-linecap="round"/>
<path d="M241,1345 L246,1400 L250,1440 L250,1503" fill="none" stroke="#d01010" stroke-width="14.4" opacity="0.36" filter="url(#b12)" stroke-linejoin="round" stroke-linecap="round"/>
<path d="M241,1345 L246,1400 L250,1440 L250,1503" fill="none" stroke="#ff2e2e" stroke-width="7.6" opacity="0.9" filter="url(#b7)" stroke-linejoin="round" stroke-linecap="round"/>
<path d="M241,1345 L246,1400 L250,1440 L250,1503" fill="none" stroke="#ffd8d8" stroke-width="5.5" opacity="0.55" filter="url(#b5)" stroke-linejoin="round" stroke-linecap="round"/>
<path d="M300,1345 L306,1427 L310,1345" fill="none" stroke="#d01010" stroke-width="9.6" opacity="0.30" filter="url(#b12)" stroke-linejoin="round" stroke-linecap="round"/>
<path d="M300,1345 L306,1427 L310,1345" fill="none" stroke="#ff2e2e" stroke-width="5.1" opacity="0.75" filter="url(#b7)" stroke-linejoin="round" stroke-linecap="round"/>
<path d="M316,1262 L316,1338" fill="none" stroke="#d01010" stroke-width="9.6" opacity="0.28" filter="url(#b12)" stroke-linejoin="round" stroke-linecap="round"/>
<path d="M316,1262 L316,1338" fill="none" stroke="#ff2e2e" stroke-width="5.1" opacity="0.7" filter="url(#b7)" stroke-linejoin="round" stroke-linecap="round"/>
<path d="M100,1425 L104,1470" fill="none" stroke="#ffffff" stroke-width="3.6" opacity="0.95" filter="url(#b3)" stroke-linecap="round"/>
<path d="M100,1425 L104,1470" fill="none" stroke="#ffd8d8" stroke-width="7.8" opacity="0.95" filter="url(#b5)" stroke-linecap="round"/>
<path d="M248,1418 L250,1448" fill="none" stroke="#ffffff" stroke-width="4.2" opacity="0.95" filter="url(#b3)" stroke-linecap="round"/>
<path d="M248,1418 L250,1448" fill="none" stroke="#ffd8d8" stroke-width="9.1" opacity="0.95" filter="url(#b5)" stroke-linecap="round"/>
<path d="M196,1255 L218,1315" fill="none" stroke="#ffffff" stroke-width="4.8" opacity="0.95" filter="url(#b3)" stroke-linecap="round"/>
<path d="M196,1255 L218,1315" fill="none" stroke="#ffd8d8" stroke-width="10.4" opacity="0.95" filter="url(#b5)" stroke-linecap="round"/>
</g>
<line x1="87.3" y1="1336.7" x2="330" y2="1336.7" stroke="#d8c070" stroke-width="1.8"/>
<rect x="330" y="1333.7" width="8" height="6" fill="#30e040"/>
<rect x="382" y="1221.7" width="24" height="16.59999999999991" fill="url(#gg)"/>
<line x1="328" y1="1233.5" x2="335" y2="1233.5" stroke="#e2d9a2" stroke-width="2.2"/>
<line x1="330" y1="1246.2" x2="335" y2="1246.2" stroke="#e2d9a2" stroke-width="1.6"/>
<line x1="330" y1="1258.8" x2="335" y2="1258.8" stroke="#e2d9a2" stroke-width="1.6"/>
<line x1="330" y1="1271.5" x2="335" y2="1271.5" stroke="#e2d9a2" stroke-width="1.6"/>
<line x1="328" y1="1284.2" x2="335" y2="1284.2" stroke="#e2d9a2" stroke-width="2.2"/>
<line x1="330" y1="1296.8" x2="335" y2="1296.8" stroke="#e2d9a2" stroke-width="1.6"/>
<line x1="330" y1="1309.5" x2="335" y2="1309.5" stroke="#e2d9a2" stroke-width="1.6"/>
<line x1="330" y1="1322.2" x2="335" y2="1322.2" stroke="#e2d9a2" stroke-width="1.6"/>
<line x1="328" y1="1334.8" x2="335" y2="1334.8" stroke="#e2d9a2" stroke-width="2.2"/>
<line x1="330" y1="1347.5" x2="335" y2="1347.5" stroke="#e2d9a2" stroke-width="1.6"/>
<line x1="330" y1="1360.1" x2="335" y2="1360.1" stroke="#e2d9a2" stroke-width="1.6"/>
<line x1="330" y1="1372.8" x2="335" y2="1372.8" stroke="#e2d9a2" stroke-width="1.6"/>
<line x1="328" y1="1385.5" x2="335" y2="1385.5" stroke="#e2d9a2" stroke-width="2.2"/>
<line x1="330" y1="1398.1" x2="335" y2="1398.1" stroke="#e2d9a2" stroke-width="1.6"/>
<line x1="330" y1="1410.8" x2="335" y2="1410.8" stroke="#e2d9a2" stroke-width="1.6"/>
<line x1="330" y1="1423.5" x2="335" y2="1423.5" stroke="#e2d9a2" stroke-width="1.6"/>
<line x1="328" y1="1436.1" x2="335" y2="1436.1" stroke="#e2d9a2" stroke-width="2.2"/>
<line x1="330" y1="1448.8" x2="335" y2="1448.8" stroke="#e2d9a2" stroke-width="1.6"/>
<line x1="330" y1="1461.5" x2="335" y2="1461.5" stroke="#e2d9a2" stroke-width="1.6"/>
<line x1="330" y1="1474.1" x2="335" y2="1474.1" stroke="#e2d9a2" stroke-width="1.6"/>
<line x1="328" y1="1486.8" x2="335" y2="1486.8" stroke="#e2d9a2" stroke-width="2.2"/>
<text x="341.5" y="1240.5" font-size="19.5" font-weight="normal" text-anchor="start" fill="#e2d9a2" >4</text>
<text x="341.5" y="1291.5" font-size="19.5" font-weight="normal" text-anchor="start" fill="#e2d9a2" >2</text>
<text x="341.5" y="1344" font-size="19.5" font-weight="normal" text-anchor="start" fill="#e2d9a2" ></text>
<text x="341.5" y="1393.8" font-size="19.5" font-weight="normal" text-anchor="start" fill="#e2d9a2" >-2</text>
<text x="341.5" y="1443.8" font-size="19.5" font-weight="normal" text-anchor="start" fill="#e2d9a2" >-4</text>
<text x="341.5" y="1493.8" font-size="19.5" font-weight="normal" text-anchor="start" fill="#e2d9a2" >-6</text>
<text x="340" y="1344.5" font-size="18.5" font-weight="normal" text-anchor="start" fill="#e2d9a2" >[cm/s]</text>
<text x="375" y="1248" font-size="15.5" font-weight="normal" text-anchor="start" fill="#e2d9a2" >-.08</text>
<rect x="88.3" y="1222.7" width="61.39999999999999" height="41.299999999999955" fill="#000" stroke="#96ecc8" stroke-width="2"/>
<text x="119.0" y="1249.85" font-size="19" font-weight="bold" text-anchor="middle" fill="#c8f4e4" >l´</text>
<text x="245.5" y="1246.5" font-size="18.7" font-weight="bold" text-anchor="middle" fill="#96ecc8" >sham</text>
<text x="177" y="1443.5" font-size="17" font-weight="bold" text-anchor="middle" fill="#96ecc8" >a´</text>
<text x="123" y="1492" font-size="17" font-weight="bold" text-anchor="middle" fill="#96ecc8" >e´</text>
<rect x="465.7" y="1221.7" width="293.59999999999997" height="282.29999999999995" fill="#000"/>
<clipPath id="rmp"><rect x="465.7" y="1221.7" width="207.3" height="282.29999999999995"/></clipPath>
<g clip-path="url(#rmp)">
<rect x="466" y="1322" width="207" height="30" fill="#d01010" opacity="0.13" filter="url(#b12)"/>
<path d="M471.6,1310 L471.6,1345" fill="none" stroke="#d01010" stroke-width="12.8" opacity="0.36" filter="url(#b12)" stroke-linejoin="round" stroke-linecap="round"/>
<path d="M471.6,1310 L471.6,1345" fill="none" stroke="#ff2e2e" stroke-width="6.8" opacity="0.9" filter="url(#b7)" stroke-linejoin="round" stroke-linecap="round"/>
<path d="M471.6,1310 L471.6,1345" fill="none" stroke="#ffd8d8" stroke-width="3.3" opacity="0.55" filter="url(#b5)" stroke-linejoin="round" stroke-linecap="round"/>
<path d="M476,1348 L481,1380 L485,1409 L486,1428" fill="none" stroke="#d01010" stroke-width="14.4" opacity="0.36" filter="url(#b12)" stroke-linejoin="round" stroke-linecap="round"/>
<path d="M476,1348 L481,1380 L485,1409 L486,1428" fill="none" stroke="#ff2e2e" stroke-width="7.6" opacity="0.9" filter="url(#b7)" stroke-linejoin="round" stroke-linecap="round"/>
<path d="M476,1348 L481,1380 L485,1409 L486,1428" fill="none" stroke="#ffd8d8" stroke-width="4.4" opacity="0.55" filter="url(#b5)" stroke-linejoin="round" stroke-linecap="round"/>
<path d="M486,1410 L495,1380 L503,1352 L508,1337" fill="none" stroke="#d01010" stroke-width="12.8" opacity="0.36" filter="url(#b12)" stroke-linejoin="round" stroke-linecap="round"/>
<path d="M486,1410 L495,1380 L503,1352 L508,1337" fill="none" stroke="#ff2e2e" stroke-width="6.8" opacity="0.9" filter="url(#b7)" stroke-linejoin="round" stroke-linecap="round"/>
<path d="M486,1410 L495,1380 L503,1352 L508,1337" fill="none" stroke="#ffd8d8" stroke-width="3.3" opacity="0.55" filter="url(#b5)" stroke-linejoin="round" stroke-linecap="round"/>
<path d="M508,1340 L514,1368 L520,1394 L527,1352 L530,1322" fill="none" stroke="#d01010" stroke-width="12.8" opacity="0.36" filter="url(#b12)" stroke-linejoin="round" stroke-linecap="round"/>
<path d="M508,1340 L514,1368 L520,1394 L527,1352 L530,1322" fill="none" stroke="#ff2e2e" stroke-width="6.8" opacity="0.9" filter="url(#b7)" stroke-linejoin="round" stroke-linecap="round"/>
<path d="M508,1340 L514,1368 L520,1394 L527,1352 L530,1322" fill="none" stroke="#ffd8d8" stroke-width="2.2" opacity="0.55" filter="url(#b5)" stroke-linejoin="round" stroke-linecap="round"/>
<path d="M533,1320 L533,1428" fill="none" stroke="#d01010" stroke-width="8.0" opacity="0.24" filter="url(#b12)" stroke-linejoin="round" stroke-linecap="round"/>
<path d="M533,1320 L533,1428" fill="none" stroke="#ff2e2e" stroke-width="4.2" opacity="0.6" filter="url(#b7)" stroke-linejoin="round" stroke-linecap="round"/>
<path d="M544,1338 L544,1262" fill="none" stroke="#d01010" stroke-width="11.2" opacity="0.32" filter="url(#b12)" stroke-linejoin="round" stroke-linecap="round"/>
<path d="M544,1338 L544,1262" fill="none" stroke="#ff2e2e" stroke-width="6.0" opacity="0.8" filter="url(#b7)" stroke-linejoin="round" stroke-linecap="round"/>
<path d="M545,1265 L552,1290 L566,1310 L582,1333" fill="none" stroke="#d01010" stroke-width="27.2" opacity="0.36" filter="url(#b12)" stroke-linejoin="round" stroke-linecap="round"/>
<path d="M545,1265 L552,1290 L566,1310 L582,1333" fill="none" stroke="#ff2e2e" stroke-width="14.4" opacity="0.9" filter="url(#b7)" stroke-linejoin="round" stroke-linecap="round"/>
<path d="M545,1265 L552,1290 L566,1310 L582,1333" fill="none" stroke="#ffd8d8" stroke-width="6.6" opacity="0.55" filter="url(#b5)" stroke-linejoin="round" stroke-linecap="round"/>
<path d="M597,1292 L600,1345" fill="none" stroke="#d01010" stroke-width="11.2" opacity="0.34" filter="url(#b12)" stroke-linejoin="round" stroke-linecap="round"/>
<path d="M597,1292 L600,1345" fill="none" stroke="#ff2e2e" stroke-width="6.0" opacity="0.85" filter="url(#b7)" stroke-linejoin="round" stroke-linecap="round"/>
<path d="M586,1345 L596,1385 L607,1428" fill="none" stroke="#d01010" stroke-width="12.8" opacity="0.36" filter="url(#b12)" stroke-linejoin="round" stroke-linecap="round"/>
<path d="M586,1345 L596,1385 L607,1428" fill="none" stroke="#ff2e2e" stroke-width="6.8" opacity="0.9" filter="url(#b7)" stroke-linejoin="round" stroke-linecap="round"/>
<path d="M586,1345 L596,1385 L607,1428" fill="none" stroke="#ffd8d8" stroke-width="2.2" opacity="0.55" filter="url(#b5)" stroke-linejoin="round" stroke-linecap="round"/>
<path d="M607,1428 L616,1377 L626,1345" fill="none" stroke="#d01010" stroke-width="11.2" opacity="0.36" filter="url(#b12)" stroke-linejoin="round" stroke-linecap="round"/>
<path d="M607,1428 L616,1377 L626,1345" fill="none" stroke="#ff2e2e" stroke-width="6.0" opacity="0.9" filter="url(#b7)" stroke-linejoin="round" stroke-linecap="round"/>
<path d="M632,1345 L637,1360 L645,1396 L656,1345" fill="none" stroke="#d01010" stroke-width="12.8" opacity="0.36" filter="url(#b12)" stroke-linejoin="round" stroke-linecap="round"/>
<path d="M632,1345 L637,1360 L645,1396 L656,1345" fill="none" stroke="#ff2e2e" stroke-width="6.8" opacity="0.9" filter="url(#b7)" stroke-linejoin="round" stroke-linecap="round"/>
<path d="M632,1345 L637,1360 L645,1396 L656,1345" fill="none" stroke="#ffd8d8" stroke-width="3.3" opacity="0.55" filter="url(#b5)" stroke-linejoin="round" stroke-linecap="round"/>
<path d="M660,1345 L660,1405" fill="none" stroke="#d01010" stroke-width="8.0" opacity="0.24" filter="url(#b12)" stroke-linejoin="round" stroke-linecap="round"/>
<path d="M660,1345 L660,1405" fill="none" stroke="#ff2e2e" stroke-width="4.2" opacity="0.6" filter="url(#b7)" stroke-linejoin="round" stroke-linecap="round"/>
<path d="M669,1267 L669,1345" fill="none" stroke="#d01010" stroke-width="11.2" opacity="0.36" filter="url(#b12)" stroke-linejoin="round" stroke-linecap="round"/>
<path d="M669,1267 L669,1345" fill="none" stroke="#ff2e2e" stroke-width="6.0" opacity="0.9" filter="url(#b7)" stroke-linejoin="round" stroke-linecap="round"/>
<path d="M669,1267 L669,1345" fill="none" stroke="#ffd8d8" stroke-width="3.3" opacity="0.55" filter="url(#b5)" stroke-linejoin="round" stroke-linecap="round"/>
<path d="M484,1398 L486,1412" fill="none" stroke="#ffffff" stroke-width="3.6" opacity="0.95" filter="url(#b3)" stroke-linecap="round"/>
<path d="M484,1398 L486,1412" fill="none" stroke="#ffd8d8" stroke-width="7.8" opacity="0.95" filter="url(#b5)" stroke-linecap="round"/>
<path d="M636,1350 L638,1362" fill="none" stroke="#ffffff" stroke-width="3.6" opacity="0.95" filter="url(#b3)" stroke-linecap="round"/>
<path d="M636,1350 L638,1362" fill="none" stroke="#ffd8d8" stroke-width="7.8" opacity="0.95" filter="url(#b5)" stroke-linecap="round"/>
</g>
<line x1="465.7" y1="1337.7" x2="673" y2="1337.7" stroke="#d8c070" stroke-width="1.8"/>
<rect x="673" y="1334.7" width="8" height="6" fill="#30e040"/>
<rect x="723.7" y="1221.7" width="24" height="12.299999999999955" fill="url(#gg)"/>
<line x1="671" y1="1231.5" x2="678" y2="1231.5" stroke="#e2d9a2" stroke-width="2.2"/>
<line x1="673" y1="1244.5" x2="678" y2="1244.5" stroke="#e2d9a2" stroke-width="1.6"/>
<line x1="673" y1="1257.6" x2="678" y2="1257.6" stroke="#e2d9a2" stroke-width="1.6"/>
<line x1="673" y1="1270.6" x2="678" y2="1270.6" stroke="#e2d9a2" stroke-width="1.6"/>
<line x1="671" y1="1283.7" x2="678" y2="1283.7" stroke="#e2d9a2" stroke-width="2.2"/>
<line x1="673" y1="1296.7" x2="678" y2="1296.7" stroke="#e2d9a2" stroke-width="1.6"/>
<line x1="673" y1="1309.8" x2="678" y2="1309.8" stroke="#e2d9a2" stroke-width="1.6"/>
<line x1="673" y1="1322.8" x2="678" y2="1322.8" stroke="#e2d9a2" stroke-width="1.6"/>
<line x1="671" y1="1335.9" x2="678" y2="1335.9" stroke="#e2d9a2" stroke-width="2.2"/>
<line x1="673" y1="1348.9" x2="678" y2="1348.9" stroke="#e2d9a2" stroke-width="1.6"/>
<line x1="673" y1="1362.0" x2="678" y2="1362.0" stroke="#e2d9a2" stroke-width="1.6"/>
<line x1="673" y1="1375.0" x2="678" y2="1375.0" stroke="#e2d9a2" stroke-width="1.6"/>
<line x1="671" y1="1388.1" x2="678" y2="1388.1" stroke="#e2d9a2" stroke-width="2.2"/>
<line x1="673" y1="1401.1" x2="678" y2="1401.1" stroke="#e2d9a2" stroke-width="1.6"/>
<line x1="673" y1="1414.2" x2="678" y2="1414.2" stroke="#e2d9a2" stroke-width="1.6"/>
<line x1="673" y1="1427.2" x2="678" y2="1427.2" stroke="#e2d9a2" stroke-width="1.6"/>
<line x1="671" y1="1440.3" x2="678" y2="1440.3" stroke="#e2d9a2" stroke-width="2.2"/>
<line x1="673" y1="1453.3" x2="678" y2="1453.3" stroke="#e2d9a2" stroke-width="1.6"/>
<line x1="673" y1="1466.4" x2="678" y2="1466.4" stroke="#e2d9a2" stroke-width="1.6"/>
<line x1="673" y1="1479.4" x2="678" y2="1479.4" stroke="#e2d9a2" stroke-width="1.6"/>
<line x1="671" y1="1492.5" x2="678" y2="1492.5" stroke="#e2d9a2" stroke-width="2.2"/>
<text x="684.5" y="1238.5" font-size="19.5" font-weight="normal" text-anchor="start" fill="#e2d9a2" >4</text>
<text x="684.5" y="1291.5" font-size="19.5" font-weight="normal" text-anchor="start" fill="#e2d9a2" >2</text>
<text x="684.5" y="1345" font-size="19.5" font-weight="normal" text-anchor="start" fill="#e2d9a2" ></text>
<text x="684.5" y="1396.2" font-size="19.5" font-weight="normal" text-anchor="start" fill="#e2d9a2" >-2</text>
<text x="684.5" y="1448.2" font-size="19.5" font-weight="normal" text-anchor="start" fill="#e2d9a2" >-4</text>
<text x="684.5" y="1499.5" font-size="19.5" font-weight="normal" text-anchor="start" fill="#e2d9a2" >-6</text>
<text x="683" y="1346" font-size="18.5" font-weight="normal" text-anchor="start" fill="#e2d9a2" >[cm/s]</text>
<text x="720" y="1246" font-size="15.5" font-weight="normal" text-anchor="start" fill="#e2d9a2" >-.10</text>
<rect x="466.7" y="1222.7" width="62.30000000000001" height="40.59999999999991" fill="#000" stroke="#96ecc8" stroke-width="2"/>
<text x="497.85" y="1249.5" font-size="19" font-weight="bold" text-anchor="middle" fill="#c8f4e4" >m´</text>
<text x="612" y="1245.5" font-size="18.7" font-weight="bold" text-anchor="middle" fill="#96ecc8" >banded</text>
<text x="611.5" y="1268" font-size="18.7" font-weight="bold" text-anchor="middle" fill="#96ecc8" >2 mo</text>
<text x="517" y="1418" font-size="17" font-weight="bold" text-anchor="middle" fill="#96ecc8" >a´</text>
<text x="495" y="1452.5" font-size="17" font-weight="bold" text-anchor="middle" fill="#96ecc8" >e´</text>
<rect x="810.7" y="1222.7" width="296.5999999999999" height="282.29999999999995" fill="#000"/>
<clipPath id="rnp"><rect x="810.7" y="1222.7" width="213.29999999999995" height="282.29999999999995"/></clipPath>
<g clip-path="url(#rnp)">
<rect x="811" y="1322" width="213" height="30" fill="#d01010" opacity="0.13" filter="url(#b12)"/>
<path d="M821.3,1301 L821.3,1333" fill="none" stroke="#d01010" stroke-width="14.4" opacity="0.36" filter="url(#b12)" stroke-linejoin="round" stroke-linecap="round"/>
<path d="M821.3,1301 L821.3,1333" fill="none" stroke="#ff2e2e" stroke-width="7.6" opacity="0.9" filter="url(#b7)" stroke-linejoin="round" stroke-linecap="round"/>
<path d="M821.3,1301 L821.3,1333" fill="none" stroke="#ffd8d8" stroke-width="4.4" opacity="0.55" filter="url(#b5)" stroke-linejoin="round" stroke-linecap="round"/>
<path d="M814,1345 L814,1390" fill="none" stroke="#d01010" stroke-width="9.6" opacity="0.28" filter="url(#b12)" stroke-linejoin="round" stroke-linecap="round"/>
<path d="M814,1345 L814,1390" fill="none" stroke="#ff2e2e" stroke-width="5.1" opacity="0.7" filter="url(#b7)" stroke-linejoin="round" stroke-linecap="round"/>
<path d="M829,1345 L833,1370 L836.5,1386 L836,1411" fill="none" stroke="#d01010" stroke-width="14.4" opacity="0.36" filter="url(#b12)" stroke-linejoin="round" stroke-linecap="round"/>
<path d="M829,1345 L833,1370 L836.5,1386 L836,1411" fill="none" stroke="#ff2e2e" stroke-width="7.6" opacity="0.9" filter="url(#b7)" stroke-linejoin="round" stroke-linecap="round"/>
<path d="M829,1345 L833,1370 L836.5,1386 L836,1411" fill="none" stroke="#ffd8d8" stroke-width="4.4" opacity="0.55" filter="url(#b5)" stroke-linejoin="round" stroke-linecap="round"/>
<path d="M836,1390 L842,1370 L848,1348" fill="none" stroke="#d01010" stroke-width="11.2" opacity="0.36" filter="url(#b12)" stroke-linejoin="round" stroke-linecap="round"/>
<path d="M836,1390 L842,1370 L848,1348" fill="none" stroke="#ff2e2e" stroke-width="6.0" opacity="0.9" filter="url(#b7)" stroke-linejoin="round" stroke-linecap="round"/>
<path d="M864.8,1338 L864.8,1348" fill="none" stroke="#d01010" stroke-width="16.0" opacity="0.28" filter="url(#b12)" stroke-linejoin="round" stroke-linecap="round"/>
<path d="M864.8,1338 L864.8,1348" fill="none" stroke="#ff2e2e" stroke-width="8.5" opacity="0.7" filter="url(#b7)" stroke-linejoin="round" stroke-linecap="round"/>
<path d="M863,1345 L868,1390 L872.4,1424 L872,1441" fill="none" stroke="#d01010" stroke-width="12.8" opacity="0.36" filter="url(#b12)" stroke-linejoin="round" stroke-linecap="round"/>
<path d="M863,1345 L868,1390 L872.4,1424 L872,1441" fill="none" stroke="#ff2e2e" stroke-width="6.8" opacity="0.9" filter="url(#b7)" stroke-linejoin="round" stroke-linecap="round"/>
<path d="M863,1345 L868,1390 L872.4,1424 L872,1441" fill="none" stroke="#ffd8d8" stroke-width="3.3" opacity="0.55" filter="url(#b5)" stroke-linejoin="round" stroke-linecap="round"/>
<path d="M872,1420 L877,1385 L882,1352" fill="none" stroke="#d01010" stroke-width="11.2" opacity="0.36" filter="url(#b12)" stroke-linejoin="round" stroke-linecap="round"/>
<path d="M872,1420 L877,1385 L882,1352" fill="none" stroke="#ff2e2e" stroke-width="6.0" opacity="0.9" filter="url(#b7)" stroke-linejoin="round" stroke-linecap="round"/>
<path d="M872,1420 L877,1385 L882,1352" fill="none" stroke="#ffd8d8" stroke-width="2.2" opacity="0.55" filter="url(#b5)" stroke-linejoin="round" stroke-linecap="round"/>
<path d="M885.6,1343 L885.6,1488" fill="none" stroke="#d01010" stroke-width="6.4" opacity="0.30" filter="url(#b12)" stroke-linejoin="round" stroke-linecap="round"/>
<path d="M885.6,1343 L885.6,1488" fill="none" stroke="#ff2e2e" stroke-width="3.4" opacity="0.75" filter="url(#b7)" stroke-linejoin="round" stroke-linecap="round"/>
<path d="M886,1290 L886,1340" fill="none" stroke="#d01010" stroke-width="8.0" opacity="0.20" filter="url(#b12)" stroke-linejoin="round" stroke-linecap="round"/>
<path d="M886,1290 L886,1340" fill="none" stroke="#ff2e2e" stroke-width="4.2" opacity="0.5" filter="url(#b7)" stroke-linejoin="round" stroke-linecap="round"/>
<path d="M895,1340 L896,1256" fill="none" stroke="#d01010" stroke-width="11.2" opacity="0.32" filter="url(#b12)" stroke-linejoin="round" stroke-linecap="round"/>
<path d="M895,1340 L896,1256" fill="none" stroke="#ff2e2e" stroke-width="6.0" opacity="0.8" filter="url(#b7)" stroke-linejoin="round" stroke-linecap="round"/>
<path d="M897,1254 L905,1280 L918,1305 L931,1331" fill="none" stroke="#d01010" stroke-width="28.8" opacity="0.36" filter="url(#b12)" stroke-linejoin="round" stroke-linecap="round"/>
<path d="M897,1254 L905,1280 L918,1305 L931,1331" fill="none" stroke="#ff2e2e" stroke-width="15.3" opacity="0.9" filter="url(#b7)" stroke-linejoin="round" stroke-linecap="round"/>
<path d="M897,1254 L905,1280 L918,1305 L931,1331" fill="none" stroke="#ffd8d8" stroke-width="7.7" opacity="0.55" filter="url(#b5)" stroke-linejoin="round" stroke-linecap="round"/>
<path d="M944,1296 L944,1340" fill="none" stroke="#d01010" stroke-width="12.8" opacity="0.36" filter="url(#b12)" stroke-linejoin="round" stroke-linecap="round"/>
<path d="M944,1296 L944,1340" fill="none" stroke="#ff2e2e" stroke-width="6.8" opacity="0.9" filter="url(#b7)" stroke-linejoin="round" stroke-linecap="round"/>
<path d="M944,1296 L944,1340" fill="none" stroke="#ffd8d8" stroke-width="3.3" opacity="0.55" filter="url(#b5)" stroke-linejoin="round" stroke-linecap="round"/>
<path d="M935,1345 L935,1400" fill="none" stroke="#d01010" stroke-width="6.4" opacity="0.24" filter="url(#b12)" stroke-linejoin="round" stroke-linecap="round"/>
<path d="M935,1345 L935,1400" fill="none" stroke="#ff2e2e" stroke-width="3.4" opacity="0.6" filter="url(#b7)" stroke-linejoin="round" stroke-linecap="round"/>
<path d="M946,1345 L951,1370 L955.6,1386 L956,1418" fill="none" stroke="#d01010" stroke-width="12.8" opacity="0.36" filter="url(#b12)" stroke-linejoin="round" stroke-linecap="round"/>
<path d="M946,1345 L951,1370 L955.6,1386 L956,1418" fill="none" stroke="#ff2e2e" stroke-width="6.8" opacity="0.9" filter="url(#b7)" stroke-linejoin="round" stroke-linecap="round"/>
<path d="M956,1390 L962,1368 L967,1345" fill="none" stroke="#d01010" stroke-width="11.2" opacity="0.36" filter="url(#b12)" stroke-linejoin="round" stroke-linecap="round"/>
<path d="M956,1390 L962,1368 L967,1345" fill="none" stroke="#ff2e2e" stroke-width="6.0" opacity="0.9" filter="url(#b7)" stroke-linejoin="round" stroke-linecap="round"/>
<path d="M990,1345 L994,1390 L997,1424 L998,1447" fill="none" stroke="#d01010" stroke-width="14.4" opacity="0.36" filter="url(#b12)" stroke-linejoin="round" stroke-linecap="round"/>
<path d="M990,1345 L994,1390 L997,1424 L998,1447" fill="none" stroke="#ff2e2e" stroke-width="7.6" opacity="0.9" filter="url(#b7)" stroke-linejoin="round" stroke-linecap="round"/>
<path d="M990,1345 L994,1390 L997,1424 L998,1447" fill="none" stroke="#ffd8d8" stroke-width="4.4" opacity="0.55" filter="url(#b5)" stroke-linejoin="round" stroke-linecap="round"/>
<path d="M998,1420 L1003,1380 L1007,1345" fill="none" stroke="#d01010" stroke-width="11.2" opacity="0.36" filter="url(#b12)" stroke-linejoin="round" stroke-linecap="round"/>
<path d="M998,1420 L1003,1380 L1007,1345" fill="none" stroke="#ff2e2e" stroke-width="6.0" opacity="0.9" filter="url(#b7)" stroke-linejoin="round" stroke-linecap="round"/>
<path d="M1010.4,1345 L1010.4,1492" fill="none" stroke="#d01010" stroke-width="6.4" opacity="0.28" filter="url(#b12)" stroke-linejoin="round" stroke-linecap="round"/>
<path d="M1010.4,1345 L1010.4,1492" fill="none" stroke="#ff2e2e" stroke-width="3.4" opacity="0.7" filter="url(#b7)" stroke-linejoin="round" stroke-linecap="round"/>
<path d="M1020,1252 L1020,1345" fill="none" stroke="#d01010" stroke-width="12.8" opacity="0.36" filter="url(#b12)" stroke-linejoin="round" stroke-linecap="round"/>
<path d="M1020,1252 L1020,1345" fill="none" stroke="#ff2e2e" stroke-width="6.8" opacity="0.9" filter="url(#b7)" stroke-linejoin="round" stroke-linecap="round"/>
<path d="M1020,1252 L1020,1345" fill="none" stroke="#ffd8d8" stroke-width="4.4" opacity="0.55" filter="url(#b5)" stroke-linejoin="round" stroke-linecap="round"/>
</g>
<line x1="810.7" y1="1337.7" x2="1024" y2="1337.7" stroke="#d8c070" stroke-width="1.8"/>
<rect x="1024" y="1334.7" width="8" height="6" fill="#30e040"/>
<rect x="1075.3" y="1222.7" width="24" height="14.599999999999909" fill="url(#gg)"/>
<line x1="1022" y1="1233.5" x2="1029" y2="1233.5" stroke="#e2d9a2" stroke-width="2.2"/>
<line x1="1024" y1="1246.4" x2="1029" y2="1246.4" stroke="#e2d9a2" stroke-width="1.6"/>
<line x1="1024" y1="1259.3" x2="1029" y2="1259.3" stroke="#e2d9a2" stroke-width="1.6"/>
<line x1="1024" y1="1272.2" x2="1029" y2="1272.2" stroke="#e2d9a2" stroke-width="1.6"/>
<line x1="1022" y1="1285.0" x2="1029" y2="1285.0" stroke="#e2d9a2" stroke-width="2.2"/>
<line x1="1024" y1="1297.9" x2="1029" y2="1297.9" stroke="#e2d9a2" stroke-width="1.6"/>
<line x1="1024" y1="1310.8" x2="1029" y2="1310.8" stroke="#e2d9a2" stroke-width="1.6"/>
<line x1="1024" y1="1323.7" x2="1029" y2="1323.7" stroke="#e2d9a2" stroke-width="1.6"/>
<line x1="1022" y1="1336.6" x2="1029" y2="1336.6" stroke="#e2d9a2" stroke-width="2.2"/>
<line x1="1024" y1="1349.5" x2="1029" y2="1349.5" stroke="#e2d9a2" stroke-width="1.6"/>
<line x1="1024" y1="1362.3" x2="1029" y2="1362.3" stroke="#e2d9a2" stroke-width="1.6"/>
<line x1="1024" y1="1375.2" x2="1029" y2="1375.2" stroke="#e2d9a2" stroke-width="1.6"/>
<line x1="1022" y1="1388.1" x2="1029" y2="1388.1" stroke="#e2d9a2" stroke-width="2.2"/>
<line x1="1024" y1="1401.0" x2="1029" y2="1401.0" stroke="#e2d9a2" stroke-width="1.6"/>
<line x1="1024" y1="1413.9" x2="1029" y2="1413.9" stroke="#e2d9a2" stroke-width="1.6"/>
<line x1="1024" y1="1426.8" x2="1029" y2="1426.8" stroke="#e2d9a2" stroke-width="1.6"/>
<line x1="1022" y1="1439.7" x2="1029" y2="1439.7" stroke="#e2d9a2" stroke-width="2.2"/>
<line x1="1024" y1="1452.5" x2="1029" y2="1452.5" stroke="#e2d9a2" stroke-width="1.6"/>
<line x1="1024" y1="1465.4" x2="1029" y2="1465.4" stroke="#e2d9a2" stroke-width="1.6"/>
<line x1="1024" y1="1478.3" x2="1029" y2="1478.3" stroke="#e2d9a2" stroke-width="1.6"/>
<line x1="1022" y1="1491.2" x2="1029" y2="1491.2" stroke="#e2d9a2" stroke-width="2.2"/>
<text x="1035.5" y="1240.5" font-size="19.5" font-weight="normal" text-anchor="start" fill="#e2d9a2" >4</text>
<text x="1035.5" y="1292.2" font-size="19.5" font-weight="normal" text-anchor="start" fill="#e2d9a2" >2</text>
<text x="1035.5" y="1345" font-size="19.5" font-weight="normal" text-anchor="start" fill="#e2d9a2" ></text>
<text x="1035.5" y="1395.5" font-size="19.5" font-weight="normal" text-anchor="start" fill="#e2d9a2" >-2</text>
<text x="1035.5" y="1447.2" font-size="19.5" font-weight="normal" text-anchor="start" fill="#e2d9a2" >-4</text>
<text x="1035.5" y="1498.2" font-size="19.5" font-weight="normal" text-anchor="start" fill="#e2d9a2" >-6</text>
<text x="1034" y="1348" font-size="18.5" font-weight="normal" text-anchor="start" fill="#e2d9a2" >[cm/s]</text>
<text x="1069.3" y="1248" font-size="15.5" font-weight="normal" text-anchor="start" fill="#e2d9a2" >-.10</text>
<rect x="811.7" y="1223.7" width="63.0" height="42.0" fill="#000" stroke="#96ecc8" stroke-width="2"/>
<text x="843.2" y="1251.2" font-size="19" font-weight="bold" text-anchor="middle" fill="#c8f4e4" >n´</text>
<text x="957.5" y="1248" font-size="18.7" font-weight="bold" text-anchor="middle" fill="#96ecc8" >banded</text>
<text x="956.5" y="1270.5" font-size="18.7" font-weight="bold" text-anchor="middle" fill="#96ecc8" >4 mo</text>
<text x="830" y="1436" font-size="17" font-weight="bold" text-anchor="middle" fill="#96ecc8" >e´</text>
<text x="869" y="1467.5" font-size="17" font-weight="bold" text-anchor="middle" fill="#96ecc8" >a´</text>
</svg></body></html>
